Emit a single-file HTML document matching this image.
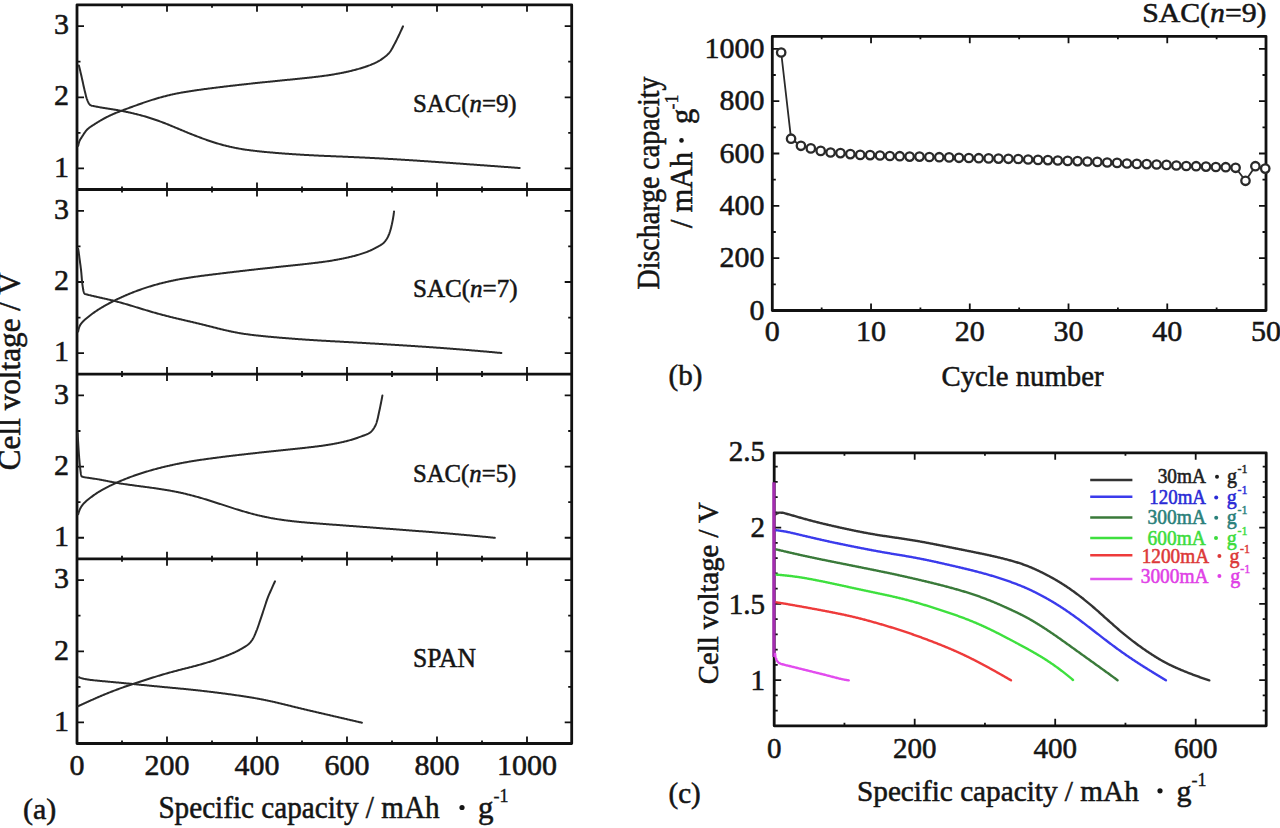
<!DOCTYPE html>
<html><head><meta charset="utf-8"><title>Figure</title>
<style>
html,body{margin:0;padding:0;background:#fff;}
body{width:1280px;height:828px;overflow:hidden;font-family:"Liberation Serif",serif;}
svg{display:block;}
text{font-family:"Liberation Serif",serif;}
</style></head>
<body>
<svg width="1280" height="828" viewBox="0 0 1280 828" font-family="Liberation Serif, serif">
<rect width="1280" height="828" fill="#fff"/>
<g id="pa">
<rect x="77.0" y="4.8" width="494.70" height="738.70" fill="none" stroke="#111" stroke-width="2.8" stroke-linejoin="round"/>
<line x1="77.0" y1="189.5" x2="571.7" y2="189.5" stroke="#111" stroke-width="2.8"/>
<line x1="77.0" y1="374.1" x2="571.7" y2="374.1" stroke="#111" stroke-width="2.8"/>
<line x1="77.0" y1="558.8" x2="571.7" y2="558.8" stroke="#111" stroke-width="2.8"/>
<path d="M122.00,4.80v3M122.00,189.50v-3M167.00,4.80v7M167.00,189.50v-7M212.00,4.80v3M212.00,189.50v-3M257.00,4.80v7M257.00,189.50v-7M302.00,4.80v3M302.00,189.50v-3M347.00,4.80v7M347.00,189.50v-7M392.00,4.80v3M392.00,189.50v-3M437.00,4.80v7M437.00,189.50v-7M482.00,4.80v3M482.00,189.50v-3M527.00,4.80v7M527.00,189.50v-7M77.00,168.45h7M571.70,168.45h-7M77.00,132.87h3.5M571.70,132.87h-3.5M77.00,97.29h7M571.70,97.29h-7M77.00,61.72h3.5M571.70,61.72h-3.5M77.00,26.14h7M571.70,26.14h-7M122.00,189.50v3M122.00,374.10v-3M167.00,189.50v7M167.00,374.10v-7M212.00,189.50v3M212.00,374.10v-3M257.00,189.50v7M257.00,374.10v-7M302.00,189.50v3M302.00,374.10v-3M347.00,189.50v7M347.00,374.10v-7M392.00,189.50v3M392.00,374.10v-3M437.00,189.50v7M437.00,374.10v-7M482.00,189.50v3M482.00,374.10v-3M527.00,189.50v7M527.00,374.10v-7M77.00,353.14h7M571.70,353.14h-7M77.00,317.57h3.5M571.70,317.57h-3.5M77.00,282.00h7M571.70,282.00h-7M77.00,246.42h3.5M571.70,246.42h-3.5M77.00,210.84h7M571.70,210.84h-7M122.00,374.10v3M122.00,558.80v-3M167.00,374.10v7M167.00,558.80v-7M212.00,374.10v3M212.00,558.80v-3M257.00,374.10v7M257.00,558.80v-7M302.00,374.10v3M302.00,558.80v-3M347.00,374.10v7M347.00,558.80v-7M392.00,374.10v3M392.00,558.80v-3M437.00,374.10v7M437.00,558.80v-7M482.00,374.10v3M482.00,558.80v-3M527.00,374.10v7M527.00,558.80v-7M77.00,537.75h7M571.70,537.75h-7M77.00,502.17h3.5M571.70,502.17h-3.5M77.00,466.60h7M571.70,466.60h-7M77.00,431.02h3.5M571.70,431.02h-3.5M77.00,395.44h7M571.70,395.44h-7M122.00,558.80v3M122.00,743.50v-3M167.00,558.80v7M167.00,743.50v-7M212.00,558.80v3M212.00,743.50v-3M257.00,558.80v7M257.00,743.50v-7M302.00,558.80v3M302.00,743.50v-3M347.00,558.80v7M347.00,743.50v-7M392.00,558.80v3M392.00,743.50v-3M437.00,558.80v7M437.00,743.50v-7M482.00,558.80v3M482.00,743.50v-3M527.00,558.80v7M527.00,743.50v-7M77.00,722.44h7M571.70,722.44h-7M77.00,686.87h3.5M571.70,686.87h-3.5M77.00,651.29h7M571.70,651.29h-7M77.00,615.72h3.5M571.70,615.72h-3.5M77.00,580.14h7M571.70,580.14h-7" stroke="#111" stroke-width="1.8" fill="none"/>
<text x="69" y="176.65" text-anchor="end" font-size="30" fill="#151515" stroke="#151515" stroke-width="0.55">1</text>
<text x="69" y="105.49" text-anchor="end" font-size="30" fill="#151515" stroke="#151515" stroke-width="0.55">2</text>
<text x="69" y="34.34" text-anchor="end" font-size="30" fill="#151515" stroke="#151515" stroke-width="0.55">3</text>
<text x="69" y="361.34" text-anchor="end" font-size="30" fill="#151515" stroke="#151515" stroke-width="0.55">1</text>
<text x="69" y="290.19" text-anchor="end" font-size="30" fill="#151515" stroke="#151515" stroke-width="0.55">2</text>
<text x="69" y="219.04" text-anchor="end" font-size="30" fill="#151515" stroke="#151515" stroke-width="0.55">3</text>
<text x="69" y="545.95" text-anchor="end" font-size="30" fill="#151515" stroke="#151515" stroke-width="0.55">1</text>
<text x="69" y="474.80" text-anchor="end" font-size="30" fill="#151515" stroke="#151515" stroke-width="0.55">2</text>
<text x="69" y="403.64" text-anchor="end" font-size="30" fill="#151515" stroke="#151515" stroke-width="0.55">3</text>
<text x="69" y="730.64" text-anchor="end" font-size="30" fill="#151515" stroke="#151515" stroke-width="0.55">1</text>
<text x="69" y="659.50" text-anchor="end" font-size="30" fill="#151515" stroke="#151515" stroke-width="0.55">2</text>
<text x="69" y="588.35" text-anchor="end" font-size="30" fill="#151515" stroke="#151515" stroke-width="0.55">3</text>
<text x="77.00" y="775.2" text-anchor="middle" font-size="30" fill="#151515" stroke="#151515" stroke-width="0.55">0</text>
<text x="167.00" y="775.2" text-anchor="middle" font-size="30" fill="#151515" stroke="#151515" stroke-width="0.55">200</text>
<text x="257.00" y="775.2" text-anchor="middle" font-size="30" fill="#151515" stroke="#151515" stroke-width="0.55">400</text>
<text x="347.00" y="775.2" text-anchor="middle" font-size="30" fill="#151515" stroke="#151515" stroke-width="0.55">600</text>
<text x="437.00" y="775.2" text-anchor="middle" font-size="30" fill="#151515" stroke="#151515" stroke-width="0.55">800</text>
<text x="527.00" y="775.2" text-anchor="middle" font-size="30" fill="#151515" stroke="#151515" stroke-width="0.55">1000</text>
<path d="M78.90,65.40 L79.09,66.18 L79.28,66.96 L79.46,67.74 L79.65,68.52 L79.84,69.30 L80.02,70.08 L80.21,70.86 L80.39,71.64 L80.57,72.42 L80.76,73.20 L80.94,73.98 L81.12,74.76 L81.30,75.54 L81.48,76.32 L81.66,77.10 L81.84,77.88 L82.02,78.66 L82.19,79.44 L82.36,80.23 L82.53,81.01 L82.70,81.79 L82.87,82.58 L83.04,83.36 L83.20,84.15 L83.37,84.93 L83.54,85.71 L83.71,86.50 L83.89,87.28 L84.07,88.06 L84.25,88.84 L84.43,89.62 L84.62,90.40 L84.82,91.17 L85.01,91.96 L85.20,92.75 L85.38,93.54 L85.57,94.33 L85.76,95.12 L85.96,95.91 L86.17,96.69 L86.39,97.46 L86.62,98.23 L86.87,98.98 L87.13,99.73 L87.41,100.45 L87.72,101.17 L88.07,101.93 L88.46,102.72 L88.90,103.48 L89.38,104.17 L89.89,104.75 L90.44,105.17 L91.07,105.45 L91.81,105.68 L92.61,105.87 L93.45,106.04 L94.29,106.20 L95.08,106.37 L95.87,106.53 L96.65,106.69 L97.44,106.84 L98.22,106.98 L99.01,107.13 L99.80,107.26 L100.59,107.40 L101.38,107.53 L102.18,107.66 L102.97,107.79 L103.76,107.93 L104.55,108.06 L105.34,108.19 L106.13,108.32 L106.92,108.44 L107.71,108.57 L108.51,108.69 L109.30,108.81 L110.09,108.93 L110.88,109.05 L111.67,109.17 L112.47,109.30 L113.26,109.43 L114.05,109.56 L114.84,109.69 L115.63,109.83 L116.42,109.96 L117.21,110.10 L118.00,110.24 L118.79,110.38 L119.57,110.52 L120.36,110.67 L121.15,110.81 L121.94,110.96 L122.72,111.12 L123.51,111.27 L124.29,111.43 L125.08,111.59 L125.87,111.75 L126.65,111.91 L127.43,112.08 L128.22,112.25 L129.00,112.42 L129.78,112.59 L130.57,112.76 L131.35,112.94 L132.13,113.12 L132.91,113.30 L133.69,113.49 L134.47,113.68 L135.24,113.86 L136.02,114.06 L136.80,114.25 L137.58,114.45 L138.35,114.65 L139.13,114.85 L139.91,115.05 L140.68,115.26 L141.45,115.47 L142.23,115.68 L143.00,115.90 L143.77,116.11 L144.54,116.33 L145.31,116.55 L146.08,116.78 L146.85,117.00 L147.62,117.23 L148.38,117.46 L149.15,117.70 L149.91,117.94 L150.68,118.18 L151.44,118.43 L152.20,118.68 L152.96,118.93 L153.72,119.19 L154.48,119.45 L155.24,119.71 L155.99,119.97 L156.75,120.24 L157.51,120.51 L158.26,120.78 L159.01,121.05 L159.77,121.33 L160.52,121.61 L161.27,121.88 L162.02,122.16 L162.77,122.44 L163.52,122.72 L164.27,123.01 L165.02,123.30 L165.76,123.59 L166.51,123.89 L167.25,124.19 L167.99,124.49 L168.73,124.79 L169.48,125.10 L170.22,125.40 L170.96,125.71 L171.70,126.02 L172.44,126.33 L173.18,126.64 L173.92,126.95 L174.66,127.25 L175.40,127.56 L176.14,127.87 L176.88,128.17 L177.62,128.48 L178.36,128.78 L179.10,129.09 L179.84,129.40 L180.58,129.71 L181.32,130.02 L182.06,130.33 L182.80,130.64 L183.54,130.95 L184.28,131.26 L185.01,131.57 L185.75,131.88 L186.49,132.18 L187.23,132.49 L187.98,132.80 L188.72,133.10 L189.46,133.40 L190.20,133.70 L190.95,134.00 L191.69,134.29 L192.44,134.58 L193.18,134.87 L193.93,135.16 L194.68,135.46 L195.42,135.75 L196.17,136.04 L196.92,136.33 L197.67,136.61 L198.42,136.90 L199.17,137.19 L199.92,137.47 L200.67,137.75 L201.42,138.04 L202.17,138.32 L202.92,138.59 L203.67,138.87 L204.43,139.14 L205.18,139.41 L205.94,139.68 L206.69,139.95 L207.45,140.21 L208.21,140.47 L208.96,140.73 L209.72,140.99 L210.48,141.24 L211.24,141.49 L212.00,141.73 L212.77,141.98 L213.53,142.23 L214.29,142.47 L215.06,142.71 L215.82,142.95 L216.59,143.19 L217.36,143.42 L218.13,143.65 L218.90,143.88 L219.67,144.10 L220.44,144.32 L221.21,144.54 L221.98,144.76 L222.75,144.97 L223.53,145.17 L224.30,145.37 L225.08,145.57 L225.85,145.76 L226.63,145.95 L227.41,146.14 L228.19,146.33 L228.97,146.51 L229.75,146.69 L230.53,146.87 L231.32,147.05 L232.10,147.22 L232.88,147.39 L233.67,147.56 L234.45,147.72 L235.24,147.88 L236.03,148.03 L236.81,148.19 L237.60,148.33 L238.39,148.48 L239.18,148.62 L239.96,148.75 L240.75,148.89 L241.54,149.02 L242.33,149.15 L243.13,149.27 L243.92,149.40 L244.71,149.52 L245.50,149.64 L246.30,149.75 L247.09,149.87 L247.88,149.98 L248.68,150.09 L249.47,150.20 L250.27,150.30 L251.06,150.40 L251.86,150.50 L252.65,150.60 L253.45,150.69 L254.25,150.79 L255.04,150.88 L255.84,150.97 L256.63,151.06 L257.43,151.14 L258.22,151.23 L259.02,151.32 L259.82,151.40 L260.61,151.49 L261.41,151.57 L262.21,151.65 L263.01,151.73 L263.80,151.81 L264.60,151.89 L265.40,151.97 L266.20,152.04 L266.99,152.12 L267.79,152.19 L268.59,152.27 L269.39,152.34 L270.19,152.41 L270.99,152.48 L271.79,152.55 L272.58,152.62 L273.38,152.69 L274.18,152.76 L274.98,152.83 L275.78,152.89 L276.58,152.96 L277.38,153.03 L278.18,153.09 L278.97,153.15 L279.77,153.22 L280.57,153.28 L281.37,153.34 L282.17,153.40 L282.97,153.46 L283.77,153.52 L284.57,153.58 L285.37,153.64 L286.16,153.70 L286.96,153.76 L287.76,153.81 L288.56,153.87 L289.36,153.93 L290.16,153.98 L290.96,154.04 L291.76,154.09 L292.56,154.15 L293.36,154.20 L294.16,154.25 L294.96,154.30 L295.76,154.36 L296.56,154.41 L297.36,154.46 L298.16,154.51 L298.96,154.56 L299.76,154.61 L300.56,154.66 L301.36,154.70 L302.16,154.75 L302.96,154.80 L303.76,154.85 L304.56,154.89 L305.36,154.94 L306.16,154.98 L306.96,155.03 L307.76,155.07 L308.56,155.12 L309.36,155.16 L310.16,155.20 L310.96,155.24 L311.76,155.29 L312.56,155.33 L313.36,155.37 L314.16,155.41 L314.96,155.45 L315.76,155.48 L316.56,155.52 L317.36,155.56 L318.16,155.60 L318.96,155.63 L319.76,155.67 L320.56,155.71 L321.36,155.74 L322.16,155.78 L322.96,155.81 L323.76,155.85 L324.57,155.88 L325.37,155.91 L326.17,155.95 L326.97,155.98 L327.77,156.01 L328.57,156.05 L329.37,156.08 L330.17,156.11 L330.97,156.15 L331.77,156.18 L332.57,156.21 L333.37,156.25 L334.17,156.28 L334.97,156.31 L335.77,156.35 L336.58,156.38 L337.38,156.41 L338.18,156.45 L338.98,156.48 L339.78,156.52 L340.58,156.55 L341.38,156.59 L342.18,156.62 L342.98,156.65 L343.78,156.69 L344.58,156.72 L345.38,156.76 L346.18,156.79 L346.98,156.82 L347.78,156.86 L348.58,156.89 L349.39,156.92 L350.19,156.96 L350.99,156.99 L351.79,157.02 L352.59,157.06 L353.39,157.09 L354.19,157.13 L354.99,157.16 L355.79,157.20 L356.59,157.23 L357.39,157.27 L358.19,157.30 L358.99,157.34 L359.79,157.38 L360.59,157.41 L361.39,157.45 L362.19,157.49 L362.99,157.53 L363.79,157.57 L364.59,157.60 L365.40,157.64 L366.20,157.68 L367.00,157.72 L367.80,157.76 L368.60,157.80 L369.40,157.84 L370.20,157.89 L371.00,157.93 L371.80,157.97 L372.60,158.01 L373.40,158.05 L374.20,158.09 L375.00,158.14 L375.80,158.18 L376.60,158.22 L377.40,158.26 L378.20,158.31 L379.00,158.35 L379.80,158.40 L380.60,158.44 L381.40,158.48 L382.20,158.53 L383.00,158.57 L383.80,158.62 L384.60,158.66 L385.40,158.71 L386.20,158.75 L387.00,158.80 L387.80,158.84 L388.60,158.89 L389.40,158.93 L390.20,158.98 L391.00,159.03 L391.80,159.07 L392.60,159.12 L393.40,159.17 L394.20,159.21 L395.00,159.26 L395.80,159.31 L396.60,159.35 L397.40,159.40 L398.20,159.45 L399.00,159.50 L399.80,159.55 L400.60,159.59 L401.40,159.64 L402.20,159.69 L403.00,159.74 L403.80,159.79 L404.60,159.84 L405.40,159.89 L406.20,159.94 L407.00,159.99 L407.80,160.04 L408.60,160.09 L409.40,160.14 L410.20,160.19 L411.00,160.24 L411.80,160.30 L412.60,160.35 L413.40,160.40 L414.19,160.45 L414.99,160.51 L415.79,160.56 L416.59,160.61 L417.39,160.66 L418.19,160.72 L418.99,160.77 L419.79,160.82 L420.59,160.88 L421.39,160.93 L422.19,160.98 L422.99,161.04 L423.79,161.09 L424.59,161.15 L425.39,161.20 L426.19,161.25 L426.99,161.31 L427.79,161.36 L428.59,161.42 L429.39,161.47 L430.19,161.53 L430.99,161.58 L431.78,161.64 L432.58,161.69 L433.38,161.75 L434.18,161.80 L434.98,161.86 L435.78,161.91 L436.58,161.97 L437.38,162.02 L438.18,162.08 L438.98,162.13 L439.78,162.19 L440.58,162.24 L441.38,162.30 L442.18,162.36 L442.98,162.41 L443.78,162.47 L444.57,162.53 L445.37,162.58 L446.17,162.64 L446.97,162.70 L447.77,162.76 L448.57,162.81 L449.37,162.87 L450.17,162.93 L450.97,162.99 L451.77,163.04 L452.57,163.10 L453.37,163.16 L454.17,163.22 L454.96,163.28 L455.76,163.33 L456.56,163.39 L457.36,163.45 L458.16,163.51 L458.96,163.57 L459.76,163.62 L460.56,163.68 L461.36,163.74 L462.16,163.80 L462.96,163.86 L463.76,163.92 L464.56,163.97 L465.35,164.03 L466.15,164.09 L466.95,164.15 L467.75,164.21 L468.55,164.26 L469.35,164.32 L470.15,164.38 L470.95,164.44 L471.75,164.50 L472.55,164.55 L473.35,164.61 L474.15,164.67 L474.95,164.73 L475.74,164.79 L476.54,164.84 L477.34,164.90 L478.14,164.96 L478.94,165.02 L479.74,165.08 L480.54,165.13 L481.34,165.19 L482.14,165.25 L482.94,165.31 L483.74,165.37 L484.54,165.42 L485.34,165.48 L486.13,165.54 L486.93,165.60 L487.73,165.66 L488.53,165.72 L489.33,165.77 L490.13,165.83 L490.93,165.89 L491.73,165.95 L492.53,166.01 L493.33,166.06 L494.13,166.12 L494.93,166.18 L495.72,166.24 L496.52,166.30 L497.32,166.36 L498.12,166.42 L498.92,166.47 L499.72,166.53 L500.52,166.59 L501.32,166.65 L502.12,166.71 L502.92,166.77 L503.72,166.82 L504.52,166.88 L505.32,166.94 L506.11,167.00 L506.91,167.06 L507.71,167.12 L508.51,167.18 L509.31,167.24 L510.11,167.29 L510.91,167.35 L511.71,167.41 L512.51,167.47 L513.31,167.53 L514.11,167.59 L514.91,167.65 L515.70,167.71 L516.50,167.76 L517.30,167.82 L518.10,167.88 L518.90,167.94 L519.70,168.00" fill="none" stroke="#2a2a2a" stroke-width="2" stroke-linecap="round" stroke-linejoin="round"/>
<path d="M78.20,145.80 L78.33,144.99 L78.49,144.19 L78.69,143.41 L78.92,142.64 L79.17,141.89 L79.44,141.15 L79.74,140.43 L80.11,139.72 L80.53,139.03 L80.97,138.35 L81.42,137.68 L81.86,137.00 L82.29,136.33 L82.73,135.64 L83.16,134.95 L83.61,134.27 L84.05,133.58 L84.51,132.91 L84.97,132.24 L85.45,131.59 L85.94,130.96 L86.44,130.34 L86.96,129.76 L87.50,129.20 L88.06,128.67 L88.65,128.17 L89.27,127.68 L89.92,127.21 L90.58,126.75 L91.26,126.31 L91.95,125.87 L92.64,125.44 L93.34,125.01 L94.03,124.58 L94.71,124.15 L95.38,123.71 L96.05,123.28 L96.73,122.85 L97.41,122.42 L98.09,122.00 L98.77,121.58 L99.46,121.16 L100.15,120.75 L100.84,120.34 L101.53,119.93 L102.22,119.53 L102.92,119.13 L103.62,118.75 L104.32,118.36 L105.03,117.99 L105.73,117.61 L106.44,117.25 L107.16,116.89 L107.88,116.53 L108.60,116.18 L109.32,115.83 L110.05,115.49 L110.78,115.15 L111.51,114.82 L112.24,114.49 L112.97,114.16 L113.70,113.84 L114.44,113.53 L115.18,113.22 L115.92,112.92 L116.66,112.62 L117.41,112.33 L118.15,112.03 L118.90,111.75 L119.65,111.46 L120.40,111.17 L121.15,110.89 L121.90,110.60 L122.65,110.32 L123.40,110.03 L124.15,109.75 L124.90,109.47 L125.65,109.19 L126.40,108.91 L127.15,108.63 L127.90,108.35 L128.65,108.07 L129.40,107.80 L130.16,107.52 L130.91,107.25 L131.66,106.98 L132.42,106.70 L133.17,106.43 L133.92,106.16 L134.68,105.89 L135.43,105.62 L136.19,105.35 L136.94,105.07 L137.70,104.80 L138.45,104.53 L139.20,104.26 L139.96,103.99 L140.71,103.72 L141.47,103.46 L142.23,103.19 L142.98,102.93 L143.74,102.66 L144.50,102.40 L145.26,102.14 L146.01,101.89 L146.77,101.63 L147.53,101.38 L148.30,101.13 L149.06,100.89 L149.82,100.64 L150.58,100.40 L151.35,100.16 L152.11,99.91 L152.88,99.67 L153.64,99.44 L154.41,99.20 L155.17,98.96 L155.94,98.73 L156.71,98.50 L157.48,98.27 L158.25,98.05 L159.02,97.82 L159.79,97.60 L160.56,97.39 L161.33,97.18 L162.10,96.97 L162.88,96.76 L163.65,96.56 L164.43,96.36 L165.20,96.16 L165.98,95.96 L166.76,95.77 L167.54,95.58 L168.32,95.39 L169.10,95.20 L169.88,95.02 L170.66,94.83 L171.44,94.65 L172.22,94.48 L173.00,94.30 L173.79,94.13 L174.57,93.96 L175.35,93.80 L176.14,93.64 L176.92,93.48 L177.71,93.32 L178.49,93.17 L179.28,93.02 L180.07,92.87 L180.86,92.73 L181.64,92.59 L182.43,92.45 L183.22,92.31 L184.01,92.17 L184.80,92.04 L185.59,91.91 L186.39,91.78 L187.18,91.65 L187.97,91.52 L188.76,91.39 L189.55,91.27 L190.34,91.15 L191.14,91.03 L191.93,90.90 L192.72,90.79 L193.51,90.67 L194.30,90.55 L195.10,90.43 L195.89,90.32 L196.68,90.20 L197.47,90.09 L198.27,89.98 L199.06,89.87 L199.85,89.76 L200.65,89.65 L201.44,89.54 L202.24,89.43 L203.03,89.32 L203.82,89.21 L204.62,89.11 L205.41,89.00 L206.21,88.90 L207.00,88.79 L207.80,88.69 L208.59,88.59 L209.39,88.48 L210.18,88.38 L210.98,88.28 L211.77,88.18 L212.57,88.08 L213.36,87.98 L214.16,87.88 L214.95,87.78 L215.75,87.68 L216.54,87.58 L217.34,87.48 L218.13,87.38 L218.93,87.29 L219.72,87.19 L220.52,87.09 L221.31,86.99 L222.11,86.90 L222.91,86.80 L223.70,86.70 L224.50,86.61 L225.29,86.51 L226.09,86.41 L226.88,86.32 L227.68,86.22 L228.47,86.13 L229.27,86.04 L230.07,85.94 L230.86,85.85 L231.66,85.76 L232.45,85.66 L233.25,85.57 L234.04,85.48 L234.84,85.39 L235.64,85.30 L236.43,85.21 L237.23,85.12 L238.03,85.03 L238.82,84.94 L239.62,84.85 L240.41,84.76 L241.21,84.67 L242.01,84.58 L242.80,84.49 L243.60,84.40 L244.40,84.32 L245.19,84.23 L245.99,84.14 L246.79,84.06 L247.58,83.97 L248.38,83.88 L249.18,83.80 L249.97,83.71 L250.77,83.62 L251.57,83.54 L252.36,83.45 L253.16,83.37 L253.96,83.28 L254.75,83.20 L255.55,83.11 L256.35,83.03 L257.14,82.94 L257.94,82.86 L258.74,82.78 L259.53,82.69 L260.33,82.61 L261.13,82.53 L261.92,82.45 L262.72,82.37 L263.52,82.28 L264.32,82.20 L265.11,82.12 L265.91,82.04 L266.71,81.96 L267.50,81.88 L268.30,81.80 L269.10,81.72 L269.90,81.64 L270.69,81.56 L271.49,81.48 L272.29,81.40 L273.09,81.32 L273.88,81.24 L274.68,81.16 L275.48,81.08 L276.27,81.00 L277.07,80.92 L277.87,80.84 L278.67,80.76 L279.46,80.68 L280.26,80.60 L281.06,80.51 L281.85,80.43 L282.65,80.35 L283.45,80.27 L284.25,80.19 L285.04,80.11 L285.84,80.03 L286.64,79.95 L287.44,79.87 L288.23,79.79 L289.03,79.71 L289.83,79.63 L290.62,79.55 L291.42,79.47 L292.22,79.39 L293.02,79.31 L293.81,79.23 L294.61,79.15 L295.41,79.08 L296.21,79.00 L297.00,78.92 L297.80,78.84 L298.60,78.76 L299.40,78.68 L300.19,78.59 L300.99,78.51 L301.79,78.43 L302.58,78.35 L303.38,78.27 L304.18,78.18 L304.98,78.10 L305.77,78.02 L306.57,77.93 L307.37,77.85 L308.16,77.76 L308.96,77.67 L309.75,77.58 L310.55,77.50 L311.35,77.41 L312.14,77.32 L312.94,77.22 L313.73,77.13 L314.53,77.04 L315.33,76.95 L316.12,76.86 L316.92,76.76 L317.72,76.67 L318.51,76.57 L319.31,76.47 L320.10,76.37 L320.90,76.27 L321.69,76.17 L322.49,76.07 L323.28,75.96 L324.07,75.85 L324.87,75.74 L325.66,75.63 L326.45,75.52 L327.24,75.40 L328.04,75.28 L328.83,75.16 L329.62,75.04 L330.41,74.92 L331.21,74.79 L332.00,74.66 L332.79,74.53 L333.58,74.40 L334.37,74.26 L335.16,74.13 L335.95,73.99 L336.74,73.85 L337.53,73.71 L338.32,73.56 L339.11,73.42 L339.89,73.27 L340.68,73.12 L341.47,72.96 L342.25,72.81 L343.04,72.65 L343.82,72.49 L344.60,72.33 L345.39,72.16 L346.17,71.99 L346.95,71.82 L347.73,71.65 L348.52,71.47 L349.30,71.29 L350.08,71.11 L350.86,70.92 L351.64,70.73 L352.42,70.54 L353.20,70.34 L353.98,70.15 L354.76,69.94 L355.53,69.74 L356.31,69.53 L357.08,69.32 L357.85,69.10 L358.63,68.89 L359.39,68.66 L360.16,68.44 L360.93,68.21 L361.69,67.98 L362.45,67.74 L363.21,67.50 L363.98,67.25 L364.74,67.01 L365.50,66.75 L366.26,66.49 L367.03,66.22 L367.79,65.95 L368.54,65.68 L369.30,65.39 L370.05,65.11 L370.80,64.81 L371.55,64.51 L372.29,64.20 L373.03,63.89 L373.76,63.57 L374.49,63.24 L375.21,62.91 L375.93,62.56 L376.64,62.21 L377.34,61.85 L378.04,61.47 L378.74,61.07 L379.43,60.66 L380.12,60.23 L380.79,59.79 L381.46,59.34 L382.12,58.88 L382.78,58.41 L383.42,57.94 L384.06,57.46 L384.69,56.97 L385.33,56.47 L385.96,55.96 L386.58,55.43 L387.19,54.89 L387.78,54.34 L388.35,53.78 L388.89,53.20 L389.40,52.61 L389.88,51.99 L390.34,51.36 L390.78,50.71 L391.21,50.04 L391.63,49.35 L392.04,48.65 L392.43,47.95 L392.82,47.23 L393.20,46.51 L393.58,45.80 L393.96,45.08 L394.34,44.36 L394.72,43.65 L395.10,42.95 L395.47,42.24 L395.84,41.53 L396.20,40.81 L396.56,40.10 L396.91,39.38 L397.26,38.66 L397.61,37.93 L397.96,37.21 L398.31,36.49 L398.66,35.77 L399.00,35.04 L399.34,34.32 L399.69,33.60 L400.03,32.87 L400.36,32.14 L400.70,31.42 L401.03,30.69 L401.37,29.96 L401.70,29.23 L402.03,28.50 L402.35,27.77 L402.68,27.03 L403.00,26.30" fill="none" stroke="#2a2a2a" stroke-width="2" stroke-linecap="round" stroke-linejoin="round"/>
<path d="M78.20,248.80 L78.31,249.59 L78.42,250.38 L78.53,251.18 L78.64,251.97 L78.75,252.76 L78.86,253.55 L78.97,254.35 L79.08,255.14 L79.19,255.93 L79.29,256.73 L79.40,257.52 L79.51,258.31 L79.61,259.10 L79.72,259.90 L79.83,260.69 L79.93,261.48 L80.04,262.28 L80.15,263.07 L80.26,263.86 L80.36,264.65 L80.47,265.45 L80.57,266.24 L80.67,267.03 L80.77,267.83 L80.87,268.62 L80.96,269.42 L81.06,270.21 L81.14,271.01 L81.23,271.80 L81.30,272.60 L81.38,273.40 L81.44,274.20 L81.51,275.00 L81.58,275.80 L81.64,276.60 L81.70,277.40 L81.77,278.20 L81.83,279.00 L81.90,279.79 L81.97,280.59 L82.05,281.39 L82.13,282.18 L82.22,282.97 L82.32,283.76 L82.42,284.55 L82.53,285.34 L82.65,286.18 L82.78,287.07 L82.91,287.98 L83.06,288.90 L83.22,289.81 L83.40,290.69 L83.61,291.51 L83.84,292.25 L84.10,292.90 L84.40,293.43 L84.73,293.83 L85.30,294.11 L86.11,294.34 L87.01,294.55 L87.83,294.75 L88.60,294.96 L89.37,295.15 L90.15,295.34 L90.93,295.53 L91.71,295.71 L92.49,295.89 L93.27,296.06 L94.05,296.23 L94.83,296.41 L95.61,296.58 L96.40,296.75 L97.18,296.93 L97.96,297.11 L98.73,297.29 L99.51,297.47 L100.30,297.65 L101.08,297.82 L101.86,298.00 L102.64,298.17 L103.42,298.35 L104.20,298.52 L104.98,298.70 L105.76,298.88 L106.54,299.05 L107.32,299.23 L108.10,299.41 L108.88,299.60 L109.66,299.78 L110.43,299.97 L111.21,300.15 L111.99,300.34 L112.76,300.54 L113.54,300.73 L114.31,300.93 L115.09,301.13 L115.86,301.34 L116.64,301.54 L117.41,301.75 L118.18,301.95 L118.95,302.16 L119.73,302.37 L120.50,302.58 L121.27,302.80 L122.04,303.01 L122.81,303.23 L123.58,303.44 L124.35,303.66 L125.12,303.88 L125.89,304.10 L126.66,304.32 L127.43,304.54 L128.20,304.77 L128.96,304.99 L129.73,305.22 L130.50,305.45 L131.26,305.68 L132.03,305.92 L132.79,306.15 L133.56,306.39 L134.32,306.62 L135.08,306.86 L135.85,307.09 L136.61,307.33 L137.38,307.57 L138.14,307.80 L138.91,308.04 L139.67,308.27 L140.44,308.50 L141.21,308.73 L141.97,308.96 L142.74,309.19 L143.50,309.42 L144.27,309.65 L145.04,309.89 L145.80,310.12 L146.57,310.35 L147.33,310.58 L148.10,310.81 L148.87,311.04 L149.63,311.26 L150.40,311.49 L151.17,311.72 L151.94,311.94 L152.70,312.17 L153.47,312.39 L154.24,312.61 L155.01,312.83 L155.78,313.04 L156.55,313.26 L157.32,313.47 L158.09,313.68 L158.87,313.89 L159.64,314.10 L160.41,314.31 L161.18,314.52 L161.96,314.73 L162.73,314.93 L163.50,315.14 L164.28,315.34 L165.05,315.55 L165.83,315.75 L166.60,315.95 L167.37,316.15 L168.15,316.34 L168.93,316.54 L169.70,316.74 L170.48,316.93 L171.25,317.12 L172.03,317.31 L172.81,317.50 L173.58,317.69 L174.36,317.88 L175.14,318.06 L175.92,318.25 L176.70,318.43 L177.48,318.62 L178.26,318.80 L179.03,318.98 L179.81,319.16 L180.59,319.34 L181.37,319.53 L182.15,319.71 L182.93,319.89 L183.71,320.07 L184.49,320.25 L185.27,320.44 L186.05,320.62 L186.83,320.80 L187.61,320.98 L188.39,321.16 L189.16,321.34 L189.94,321.52 L190.72,321.70 L191.50,321.88 L192.28,322.06 L193.06,322.24 L193.84,322.42 L194.62,322.60 L195.40,322.79 L196.18,322.97 L196.95,323.16 L197.73,323.35 L198.51,323.54 L199.29,323.73 L200.06,323.92 L200.84,324.12 L201.61,324.31 L202.39,324.51 L203.17,324.70 L203.94,324.90 L204.72,325.09 L205.49,325.29 L206.27,325.48 L207.05,325.68 L207.82,325.87 L208.60,326.07 L209.37,326.26 L210.15,326.46 L210.93,326.65 L211.70,326.84 L212.48,327.04 L213.25,327.24 L214.03,327.43 L214.80,327.63 L215.58,327.83 L216.35,328.03 L217.13,328.23 L217.91,328.42 L218.68,328.62 L219.46,328.81 L220.23,329.01 L221.01,329.20 L221.79,329.39 L222.57,329.57 L223.34,329.76 L224.12,329.94 L224.90,330.12 L225.68,330.29 L226.46,330.46 L227.24,330.64 L228.03,330.81 L228.81,330.98 L229.59,331.15 L230.37,331.32 L231.16,331.49 L231.94,331.66 L232.72,331.82 L233.51,331.98 L234.29,332.14 L235.08,332.29 L235.86,332.45 L236.65,332.59 L237.43,332.74 L238.22,332.88 L239.01,333.02 L239.80,333.15 L240.59,333.28 L241.37,333.41 L242.16,333.53 L242.95,333.65 L243.75,333.78 L244.54,333.89 L245.33,334.01 L246.12,334.12 L246.91,334.24 L247.71,334.35 L248.50,334.45 L249.29,334.56 L250.09,334.66 L250.88,334.77 L251.68,334.87 L252.47,334.96 L253.26,335.06 L254.06,335.15 L254.85,335.24 L255.65,335.34 L256.44,335.42 L257.24,335.51 L258.03,335.60 L258.83,335.69 L259.62,335.77 L260.42,335.86 L261.21,335.94 L262.01,336.02 L262.80,336.10 L263.60,336.18 L264.40,336.26 L265.19,336.34 L265.99,336.42 L266.78,336.50 L267.58,336.57 L268.38,336.65 L269.18,336.72 L269.97,336.80 L270.77,336.87 L271.57,336.94 L272.36,337.01 L273.16,337.09 L273.96,337.16 L274.75,337.23 L275.55,337.30 L276.35,337.37 L277.15,337.43 L277.94,337.50 L278.74,337.57 L279.54,337.64 L280.34,337.71 L281.13,337.77 L281.93,337.84 L282.73,337.90 L283.52,337.97 L284.32,338.04 L285.12,338.10 L285.92,338.17 L286.71,338.23 L287.51,338.29 L288.31,338.36 L289.11,338.42 L289.90,338.48 L290.70,338.54 L291.50,338.60 L292.30,338.66 L293.09,338.72 L293.89,338.78 L294.69,338.84 L295.49,338.90 L296.29,338.96 L297.08,339.02 L297.88,339.08 L298.68,339.13 L299.48,339.19 L300.28,339.25 L301.07,339.30 L301.87,339.36 L302.67,339.42 L303.47,339.47 L304.27,339.53 L305.06,339.58 L305.86,339.63 L306.66,339.69 L307.46,339.74 L308.26,339.79 L309.06,339.85 L309.85,339.90 L310.65,339.95 L311.45,340.00 L312.25,340.06 L313.05,340.11 L313.85,340.16 L314.64,340.21 L315.44,340.25 L316.24,340.30 L317.04,340.35 L317.84,340.40 L318.64,340.44 L319.44,340.49 L320.24,340.54 L321.03,340.58 L321.83,340.63 L322.63,340.67 L323.43,340.72 L324.23,340.76 L325.03,340.81 L325.83,340.86 L326.62,340.90 L327.42,340.95 L328.22,340.99 L329.02,341.04 L329.82,341.08 L330.62,341.13 L331.42,341.17 L332.22,341.22 L333.01,341.26 L333.81,341.31 L334.61,341.35 L335.41,341.40 L336.21,341.44 L337.01,341.49 L337.81,341.53 L338.61,341.58 L339.41,341.62 L340.20,341.66 L341.00,341.71 L341.80,341.75 L342.60,341.80 L343.40,341.84 L344.20,341.88 L345.00,341.93 L345.80,341.97 L346.59,342.02 L347.39,342.06 L348.19,342.11 L348.99,342.15 L349.79,342.19 L350.59,342.24 L351.39,342.28 L352.19,342.33 L352.98,342.37 L353.78,342.42 L354.58,342.46 L355.38,342.51 L356.18,342.55 L356.98,342.59 L357.78,342.64 L358.58,342.69 L359.37,342.73 L360.17,342.78 L360.97,342.82 L361.77,342.87 L362.57,342.91 L363.37,342.96 L364.17,343.01 L364.97,343.05 L365.76,343.10 L366.56,343.15 L367.36,343.19 L368.16,343.24 L368.96,343.29 L369.76,343.33 L370.56,343.38 L371.35,343.43 L372.15,343.48 L372.95,343.52 L373.75,343.57 L374.55,343.62 L375.35,343.66 L376.15,343.71 L376.95,343.76 L377.74,343.81 L378.54,343.86 L379.34,343.90 L380.14,343.95 L380.94,344.00 L381.74,344.05 L382.54,344.10 L383.33,344.14 L384.13,344.19 L384.93,344.24 L385.73,344.29 L386.53,344.34 L387.33,344.39 L388.13,344.44 L388.92,344.48 L389.72,344.53 L390.52,344.58 L391.32,344.63 L392.12,344.68 L392.92,344.73 L393.71,344.78 L394.51,344.83 L395.31,344.88 L396.11,344.93 L396.91,344.98 L397.71,345.03 L398.51,345.08 L399.30,345.13 L400.10,345.18 L400.90,345.23 L401.70,345.28 L402.50,345.33 L403.30,345.39 L404.09,345.44 L404.89,345.49 L405.69,345.54 L406.49,345.59 L407.29,345.64 L408.09,345.69 L408.88,345.75 L409.68,345.80 L410.48,345.85 L411.28,345.90 L412.08,345.95 L412.88,346.01 L413.67,346.06 L414.47,346.11 L415.27,346.16 L416.07,346.22 L416.87,346.27 L417.67,346.32 L418.46,346.38 L419.26,346.43 L420.06,346.48 L420.86,346.54 L421.66,346.59 L422.46,346.64 L423.25,346.70 L424.05,346.75 L424.85,346.81 L425.65,346.86 L426.45,346.91 L427.24,346.97 L428.04,347.02 L428.84,347.08 L429.64,347.13 L430.44,347.19 L431.24,347.25 L432.03,347.30 L432.83,347.36 L433.63,347.41 L434.43,347.47 L435.23,347.53 L436.02,347.58 L436.82,347.64 L437.62,347.70 L438.42,347.75 L439.22,347.81 L440.01,347.87 L440.81,347.93 L441.61,347.99 L442.41,348.04 L443.20,348.10 L444.00,348.16 L444.80,348.22 L445.60,348.28 L446.40,348.34 L447.19,348.40 L447.99,348.46 L448.79,348.52 L449.59,348.58 L450.38,348.64 L451.18,348.71 L451.98,348.77 L452.78,348.83 L453.57,348.89 L454.37,348.95 L455.17,349.02 L455.97,349.08 L456.77,349.14 L457.56,349.21 L458.36,349.27 L459.16,349.33 L459.96,349.40 L460.75,349.46 L461.55,349.53 L462.35,349.59 L463.14,349.66 L463.94,349.72 L464.74,349.79 L465.54,349.85 L466.33,349.92 L467.13,349.98 L467.93,350.05 L468.73,350.12 L469.52,350.18 L470.32,350.25 L471.12,350.31 L471.92,350.38 L472.71,350.45 L473.51,350.52 L474.31,350.58 L475.10,350.65 L475.90,350.72 L476.70,350.79 L477.50,350.85 L478.29,350.92 L479.09,350.99 L479.89,351.06 L480.68,351.13 L481.48,351.20 L482.28,351.27 L483.07,351.34 L483.87,351.41 L484.67,351.48 L485.47,351.55 L486.26,351.62 L487.06,351.69 L487.86,351.76 L488.65,351.83 L489.45,351.90 L490.25,351.98 L491.04,352.05 L491.84,352.12 L492.64,352.19 L493.43,352.26 L494.23,352.34 L495.03,352.41 L495.82,352.48 L496.62,352.56 L497.42,352.63 L498.21,352.70 L499.01,352.78 L499.81,352.85 L500.60,352.93 L501.40,353.00" fill="none" stroke="#2a2a2a" stroke-width="2" stroke-linecap="round" stroke-linejoin="round"/>
<path d="M78.20,331.40 L78.31,330.58 L78.47,329.78 L78.66,329.00 L78.89,328.23 L79.14,327.47 L79.41,326.74 L79.71,326.01 L80.07,325.30 L80.49,324.60 L80.95,323.93 L81.43,323.27 L81.92,322.65 L82.43,322.06 L82.97,321.48 L83.54,320.92 L84.13,320.37 L84.74,319.84 L85.36,319.31 L85.98,318.79 L86.61,318.28 L87.23,317.77 L87.85,317.26 L88.47,316.75 L89.09,316.25 L89.72,315.75 L90.35,315.26 L90.99,314.77 L91.63,314.28 L92.27,313.80 L92.92,313.32 L93.57,312.85 L94.23,312.39 L94.88,311.92 L95.54,311.47 L96.21,311.02 L96.87,310.57 L97.54,310.13 L98.21,309.70 L98.88,309.27 L99.56,308.84 L100.24,308.42 L100.92,308.00 L101.60,307.59 L102.29,307.18 L102.99,306.77 L103.68,306.36 L104.37,305.96 L105.07,305.57 L105.77,305.17 L106.48,304.78 L107.18,304.39 L107.88,304.01 L108.59,303.63 L109.30,303.25 L110.01,302.87 L110.72,302.50 L111.43,302.13 L112.14,301.76 L112.85,301.39 L113.56,301.03 L114.28,300.67 L114.99,300.31 L115.71,299.96 L116.43,299.61 L117.15,299.26 L117.88,298.91 L118.60,298.57 L119.33,298.23 L120.06,297.89 L120.79,297.55 L121.52,297.22 L122.25,296.89 L122.98,296.56 L123.71,296.24 L124.45,295.91 L125.18,295.59 L125.92,295.28 L126.65,294.96 L127.39,294.65 L128.13,294.34 L128.87,294.03 L129.61,293.73 L130.35,293.42 L131.10,293.12 L131.84,292.82 L132.59,292.53 L133.33,292.23 L134.08,291.94 L134.83,291.65 L135.58,291.37 L136.33,291.08 L137.08,290.80 L137.83,290.53 L138.58,290.25 L139.34,289.98 L140.09,289.71 L140.85,289.44 L141.60,289.18 L142.36,288.92 L143.12,288.66 L143.88,288.40 L144.64,288.15 L145.40,287.89 L146.16,287.64 L146.92,287.39 L147.69,287.15 L148.45,286.90 L149.22,286.66 L149.98,286.43 L150.75,286.19 L151.52,285.96 L152.28,285.73 L153.05,285.50 L153.82,285.28 L154.59,285.06 L155.36,284.84 L156.13,284.62 L156.91,284.41 L157.68,284.20 L158.45,283.99 L159.23,283.79 L160.00,283.58 L160.78,283.38 L161.56,283.18 L162.33,282.98 L163.11,282.79 L163.89,282.60 L164.67,282.41 L165.45,282.22 L166.23,282.04 L167.01,281.85 L167.79,281.67 L168.57,281.50 L169.35,281.32 L170.14,281.15 L170.92,280.98 L171.70,280.81 L172.49,280.65 L173.27,280.48 L174.06,280.32 L174.84,280.16 L175.63,280.01 L176.41,279.85 L177.20,279.70 L177.99,279.54 L178.78,279.39 L179.57,279.25 L180.35,279.10 L181.14,278.96 L181.93,278.82 L182.72,278.68 L183.51,278.54 L184.30,278.41 L185.09,278.27 L185.88,278.14 L186.67,278.01 L187.46,277.89 L188.26,277.77 L189.05,277.64 L189.84,277.52 L190.63,277.41 L191.43,277.29 L192.22,277.18 L193.01,277.06 L193.81,276.95 L194.60,276.84 L195.39,276.73 L196.19,276.62 L196.98,276.51 L197.78,276.40 L198.57,276.29 L199.36,276.18 L200.16,276.07 L200.95,275.97 L201.75,275.86 L202.54,275.76 L203.34,275.66 L204.13,275.55 L204.93,275.45 L205.72,275.35 L206.52,275.25 L207.31,275.14 L208.11,275.04 L208.90,274.94 L209.70,274.84 L210.49,274.75 L211.29,274.65 L212.08,274.55 L212.88,274.45 L213.67,274.35 L214.47,274.25 L215.27,274.16 L216.06,274.06 L216.86,273.96 L217.65,273.87 L218.45,273.77 L219.24,273.67 L220.04,273.58 L220.84,273.48 L221.63,273.38 L222.43,273.29 L223.22,273.19 L224.02,273.09 L224.81,273.00 L225.61,272.90 L226.41,272.80 L227.20,272.71 L228.00,272.61 L228.79,272.52 L229.59,272.42 L230.38,272.33 L231.18,272.23 L231.98,272.14 L232.77,272.04 L233.57,271.95 L234.36,271.85 L235.16,271.76 L235.96,271.67 L236.75,271.57 L237.55,271.48 L238.34,271.39 L239.14,271.29 L239.94,271.20 L240.73,271.11 L241.53,271.01 L242.32,270.92 L243.12,270.83 L243.92,270.74 L244.71,270.65 L245.51,270.55 L246.31,270.46 L247.10,270.37 L247.90,270.28 L248.69,270.19 L249.49,270.10 L250.29,270.01 L251.08,269.92 L251.88,269.83 L252.68,269.74 L253.47,269.65 L254.27,269.56 L255.07,269.47 L255.86,269.38 L256.66,269.29 L257.45,269.20 L258.25,269.11 L259.05,269.02 L259.84,268.93 L260.64,268.85 L261.44,268.76 L262.23,268.67 L263.03,268.58 L263.83,268.50 L264.62,268.41 L265.42,268.32 L266.22,268.23 L267.01,268.15 L267.81,268.06 L268.61,267.97 L269.41,267.89 L270.20,267.80 L271.00,267.71 L271.80,267.63 L272.59,267.54 L273.39,267.46 L274.19,267.37 L274.98,267.28 L275.78,267.20 L276.58,267.11 L277.37,267.02 L278.17,266.94 L278.97,266.85 L279.76,266.77 L280.56,266.68 L281.36,266.59 L282.15,266.51 L282.95,266.42 L283.75,266.33 L284.55,266.25 L285.34,266.16 L286.14,266.08 L286.94,265.99 L287.73,265.91 L288.53,265.82 L289.33,265.74 L290.12,265.66 L290.92,265.57 L291.72,265.49 L292.52,265.40 L293.31,265.32 L294.11,265.24 L294.91,265.15 L295.70,265.07 L296.50,264.99 L297.30,264.90 L298.10,264.82 L298.89,264.73 L299.69,264.65 L300.49,264.56 L301.28,264.48 L302.08,264.39 L302.88,264.31 L303.67,264.22 L304.47,264.13 L305.27,264.05 L306.06,263.96 L306.86,263.87 L307.66,263.78 L308.45,263.69 L309.25,263.60 L310.05,263.51 L310.84,263.42 L311.64,263.32 L312.43,263.23 L313.23,263.13 L314.03,263.04 L314.82,262.95 L315.62,262.85 L316.41,262.76 L317.21,262.66 L318.01,262.56 L318.80,262.46 L319.60,262.36 L320.39,262.26 L321.19,262.16 L321.98,262.05 L322.78,261.95 L323.57,261.84 L324.36,261.73 L325.16,261.62 L325.95,261.50 L326.74,261.38 L327.53,261.26 L328.33,261.14 L329.12,261.02 L329.91,260.89 L330.70,260.77 L331.49,260.64 L332.29,260.51 L333.08,260.38 L333.87,260.24 L334.66,260.10 L335.45,259.97 L336.24,259.82 L337.03,259.68 L337.82,259.54 L338.61,259.39 L339.39,259.24 L340.18,259.09 L340.97,258.93 L341.75,258.78 L342.54,258.62 L343.32,258.46 L344.11,258.29 L344.89,258.13 L345.67,257.96 L346.45,257.79 L347.23,257.61 L348.02,257.43 L348.80,257.25 L349.58,257.07 L350.36,256.89 L351.14,256.70 L351.93,256.50 L352.71,256.31 L353.49,256.11 L354.27,255.91 L355.04,255.70 L355.82,255.49 L356.60,255.28 L357.37,255.06 L358.14,254.84 L358.91,254.61 L359.68,254.38 L360.45,254.15 L361.21,253.91 L361.97,253.67 L362.73,253.42 L363.49,253.17 L364.24,252.91 L364.99,252.65 L365.74,252.38 L366.49,252.10 L367.23,251.81 L367.98,251.51 L368.72,251.20 L369.46,250.88 L370.20,250.55 L370.93,250.22 L371.66,249.88 L372.39,249.53 L373.11,249.18 L373.83,248.82 L374.54,248.45 L375.25,248.08 L375.96,247.71 L376.66,247.33 L377.37,246.95 L378.09,246.56 L378.82,246.16 L379.54,245.75 L380.25,245.33 L380.95,244.90 L381.63,244.45 L382.28,243.99 L382.90,243.50 L383.48,243.00 L384.02,242.48 L384.53,241.92 L385.03,241.33 L385.52,240.70 L385.99,240.04 L386.44,239.35 L386.87,238.65 L387.29,237.93 L387.68,237.20 L388.05,236.46 L388.39,235.73 L388.71,235.00 L389.01,234.28 L389.30,233.54 L389.57,232.80 L389.83,232.04 L390.08,231.28 L390.31,230.50 L390.54,229.73 L390.76,228.95 L390.97,228.16 L391.17,227.38 L391.36,226.60 L391.54,225.81 L391.71,225.03 L391.89,224.25 L392.05,223.47 L392.22,222.69 L392.38,221.91 L392.54,221.12 L392.69,220.34 L392.84,219.55 L392.98,218.76 L393.12,217.97 L393.25,217.18 L393.38,216.39 L393.50,215.59 L393.62,214.80 L393.72,214.00 L393.82,213.20 L393.92,212.40 L394.00,211.60" fill="none" stroke="#2a2a2a" stroke-width="2" stroke-linecap="round" stroke-linejoin="round"/>
<path d="M77.60,433.00 L77.64,433.80 L77.69,434.60 L77.73,435.40 L77.77,436.20 L77.82,437.00 L77.87,437.79 L77.91,438.59 L77.96,439.39 L78.00,440.19 L78.05,440.99 L78.10,441.79 L78.15,442.59 L78.20,443.39 L78.25,444.19 L78.30,444.98 L78.35,445.78 L78.40,446.58 L78.45,447.38 L78.50,448.18 L78.55,448.98 L78.61,449.78 L78.66,450.57 L78.71,451.37 L78.77,452.17 L78.82,452.97 L78.88,453.77 L78.94,454.57 L78.99,455.37 L79.06,456.16 L79.12,456.96 L79.18,457.76 L79.25,458.56 L79.31,459.35 L79.37,460.15 L79.44,460.95 L79.51,461.75 L79.57,462.55 L79.64,463.35 L79.72,464.15 L79.80,464.94 L79.88,465.74 L79.96,466.53 L80.05,467.33 L80.15,468.12 L80.25,468.91 L80.35,469.72 L80.46,470.59 L80.57,471.51 L80.69,472.46 L80.82,473.38 L80.97,474.26 L81.15,475.05 L81.36,475.72 L81.61,476.25 L81.92,476.59 L82.55,476.84 L83.43,477.04 L84.34,477.21 L85.15,477.36 L85.93,477.50 L86.72,477.63 L87.51,477.74 L88.31,477.86 L89.10,477.97 L89.90,478.08 L90.69,478.19 L91.48,478.31 L92.27,478.42 L93.06,478.54 L93.86,478.65 L94.65,478.76 L95.44,478.88 L96.23,479.00 L97.02,479.12 L97.81,479.25 L98.60,479.38 L99.39,479.52 L100.18,479.66 L100.96,479.81 L101.75,479.96 L102.53,480.11 L103.32,480.26 L104.11,480.42 L104.89,480.57 L105.68,480.73 L106.46,480.89 L107.24,481.05 L108.03,481.21 L108.81,481.36 L109.60,481.52 L110.39,481.67 L111.17,481.82 L111.96,481.97 L112.74,482.12 L113.53,482.27 L114.32,482.41 L115.10,482.56 L115.89,482.71 L116.68,482.85 L117.47,482.99 L118.26,483.13 L119.04,483.26 L119.83,483.39 L120.62,483.52 L121.41,483.64 L122.20,483.76 L123.00,483.88 L123.79,484.00 L124.58,484.12 L125.37,484.23 L126.16,484.34 L126.96,484.46 L127.75,484.57 L128.54,484.68 L129.33,484.79 L130.13,484.90 L130.92,485.00 L131.71,485.11 L132.51,485.22 L133.30,485.33 L134.09,485.44 L134.89,485.54 L135.68,485.65 L136.47,485.76 L137.26,485.87 L138.06,485.98 L138.85,486.09 L139.64,486.19 L140.44,486.30 L141.23,486.41 L142.02,486.51 L142.82,486.61 L143.61,486.72 L144.41,486.82 L145.20,486.92 L145.99,487.02 L146.79,487.13 L147.58,487.23 L148.37,487.33 L149.17,487.44 L149.96,487.54 L150.75,487.65 L151.55,487.76 L152.34,487.87 L153.13,487.98 L153.93,488.09 L154.72,488.20 L155.51,488.31 L156.30,488.43 L157.09,488.55 L157.88,488.67 L158.67,488.79 L159.47,488.91 L160.26,489.03 L161.05,489.16 L161.84,489.28 L162.63,489.41 L163.42,489.54 L164.21,489.67 L165.00,489.80 L165.79,489.93 L166.58,490.06 L167.37,490.19 L168.16,490.33 L168.95,490.47 L169.74,490.60 L170.52,490.74 L171.31,490.89 L172.10,491.03 L172.89,491.18 L173.67,491.32 L174.46,491.47 L175.24,491.63 L176.03,491.78 L176.81,491.93 L177.60,492.09 L178.38,492.25 L179.16,492.42 L179.94,492.59 L180.72,492.76 L181.50,492.93 L182.29,493.10 L183.07,493.28 L183.85,493.46 L184.62,493.65 L185.40,493.84 L186.18,494.02 L186.96,494.21 L187.74,494.41 L188.51,494.60 L189.29,494.80 L190.07,495.00 L190.84,495.20 L191.62,495.40 L192.39,495.60 L193.17,495.81 L193.94,496.01 L194.71,496.22 L195.49,496.43 L196.26,496.64 L197.03,496.85 L197.80,497.06 L198.57,497.27 L199.34,497.49 L200.11,497.71 L200.88,497.93 L201.65,498.15 L202.41,498.38 L203.18,498.61 L203.95,498.84 L204.71,499.08 L205.48,499.31 L206.24,499.55 L207.00,499.79 L207.77,500.03 L208.53,500.27 L209.29,500.52 L210.06,500.76 L210.82,501.00 L211.58,501.25 L212.34,501.49 L213.11,501.74 L213.87,501.98 L214.63,502.23 L215.39,502.47 L216.16,502.71 L216.92,502.96 L217.68,503.20 L218.45,503.44 L219.21,503.68 L219.97,503.93 L220.73,504.17 L221.49,504.42 L222.26,504.67 L223.02,504.91 L223.78,505.16 L224.54,505.41 L225.30,505.66 L226.06,505.91 L226.82,506.17 L227.58,506.42 L228.34,506.67 L229.10,506.92 L229.86,507.17 L230.62,507.41 L231.38,507.66 L232.14,507.91 L232.91,508.15 L233.67,508.39 L234.43,508.64 L235.19,508.87 L235.96,509.11 L236.72,509.35 L237.49,509.58 L238.26,509.81 L239.02,510.04 L239.79,510.26 L240.56,510.49 L241.32,510.72 L242.09,510.95 L242.86,511.17 L243.63,511.40 L244.40,511.62 L245.17,511.85 L245.94,512.07 L246.71,512.29 L247.48,512.51 L248.25,512.73 L249.02,512.95 L249.79,513.16 L250.56,513.38 L251.33,513.59 L252.11,513.79 L252.88,514.00 L253.66,514.20 L254.43,514.40 L255.21,514.60 L255.98,514.79 L256.76,514.98 L257.53,515.17 L258.31,515.35 L259.09,515.53 L259.87,515.71 L260.65,515.88 L261.43,516.06 L262.21,516.23 L262.99,516.40 L263.78,516.57 L264.56,516.74 L265.34,516.91 L266.13,517.07 L266.91,517.23 L267.70,517.39 L268.48,517.55 L269.27,517.71 L270.05,517.86 L270.84,518.02 L271.63,518.16 L272.42,518.31 L273.20,518.45 L273.99,518.59 L274.78,518.73 L275.57,518.87 L276.36,519.00 L277.15,519.13 L277.94,519.25 L278.73,519.38 L279.52,519.49 L280.31,519.61 L281.10,519.72 L281.89,519.84 L282.68,519.95 L283.47,520.06 L284.27,520.16 L285.06,520.27 L285.85,520.37 L286.65,520.47 L287.44,520.57 L288.24,520.67 L289.03,520.77 L289.83,520.86 L290.62,520.95 L291.42,521.05 L292.22,521.14 L293.01,521.23 L293.81,521.31 L294.60,521.40 L295.40,521.49 L296.20,521.57 L296.99,521.65 L297.79,521.73 L298.58,521.82 L299.38,521.90 L300.18,521.97 L300.97,522.05 L301.77,522.13 L302.57,522.20 L303.36,522.27 L304.16,522.35 L304.96,522.42 L305.75,522.49 L306.55,522.56 L307.35,522.63 L308.14,522.69 L308.94,522.76 L309.74,522.83 L310.54,522.89 L311.34,522.96 L312.13,523.02 L312.93,523.08 L313.73,523.15 L314.53,523.21 L315.33,523.27 L316.12,523.33 L316.92,523.40 L317.72,523.46 L318.52,523.52 L319.32,523.58 L320.11,523.64 L320.91,523.70 L321.71,523.76 L322.51,523.83 L323.31,523.89 L324.10,523.95 L324.90,524.01 L325.70,524.07 L326.50,524.14 L327.30,524.20 L328.09,524.26 L328.89,524.32 L329.69,524.39 L330.49,524.45 L331.28,524.51 L332.08,524.57 L332.88,524.63 L333.68,524.69 L334.48,524.75 L335.27,524.81 L336.07,524.87 L336.87,524.93 L337.67,524.99 L338.47,525.05 L339.26,525.11 L340.06,525.17 L340.86,525.23 L341.66,525.29 L342.46,525.35 L343.26,525.41 L344.05,525.47 L344.85,525.53 L345.65,525.59 L346.45,525.64 L347.25,525.70 L348.04,525.76 L348.84,525.82 L349.64,525.88 L350.44,525.94 L351.24,526.00 L352.03,526.06 L352.83,526.11 L353.63,526.17 L354.43,526.23 L355.23,526.29 L356.03,526.35 L356.82,526.41 L357.62,526.47 L358.42,526.53 L359.22,526.59 L360.02,526.64 L360.81,526.70 L361.61,526.76 L362.41,526.82 L363.21,526.88 L364.01,526.94 L364.80,527.00 L365.60,527.06 L366.40,527.12 L367.20,527.18 L368.00,527.24 L368.79,527.30 L369.59,527.36 L370.39,527.42 L371.19,527.48 L371.99,527.54 L372.78,527.60 L373.58,527.66 L374.38,527.72 L375.18,527.78 L375.98,527.84 L376.77,527.90 L377.57,527.96 L378.37,528.02 L379.17,528.08 L379.97,528.14 L380.76,528.20 L381.56,528.26 L382.36,528.32 L383.16,528.38 L383.96,528.45 L384.76,528.51 L385.55,528.57 L386.35,528.63 L387.15,528.69 L387.95,528.75 L388.75,528.81 L389.54,528.87 L390.34,528.93 L391.14,528.99 L391.94,529.05 L392.74,529.11 L393.53,529.17 L394.33,529.23 L395.13,529.29 L395.93,529.35 L396.72,529.41 L397.52,529.48 L398.32,529.54 L399.12,529.60 L399.92,529.66 L400.71,529.72 L401.51,529.78 L402.31,529.84 L403.11,529.90 L403.91,529.96 L404.70,530.03 L405.50,530.09 L406.30,530.15 L407.10,530.21 L407.90,530.27 L408.69,530.33 L409.49,530.39 L410.29,530.45 L411.09,530.52 L411.89,530.58 L412.68,530.64 L413.48,530.70 L414.28,530.76 L415.08,530.82 L415.88,530.88 L416.67,530.94 L417.47,531.00 L418.27,531.07 L419.07,531.13 L419.87,531.19 L420.66,531.25 L421.46,531.31 L422.26,531.37 L423.06,531.44 L423.86,531.50 L424.65,531.56 L425.45,531.62 L426.25,531.68 L427.05,531.75 L427.84,531.81 L428.64,531.87 L429.44,531.93 L430.24,532.00 L431.04,532.06 L431.83,532.12 L432.63,532.19 L433.43,532.25 L434.23,532.31 L435.02,532.38 L435.82,532.44 L436.62,532.51 L437.42,532.57 L438.22,532.64 L439.01,532.70 L439.81,532.77 L440.61,532.83 L441.41,532.90 L442.20,532.96 L443.00,533.03 L443.80,533.10 L444.60,533.16 L445.39,533.23 L446.19,533.30 L446.99,533.37 L447.79,533.44 L448.58,533.50 L449.38,533.57 L450.18,533.64 L450.97,533.71 L451.77,533.78 L452.57,533.85 L453.37,533.92 L454.16,533.99 L454.96,534.06 L455.76,534.14 L456.55,534.21 L457.35,534.28 L458.15,534.35 L458.95,534.42 L459.74,534.49 L460.54,534.56 L461.34,534.64 L462.13,534.71 L462.93,534.78 L463.73,534.85 L464.52,534.93 L465.32,535.00 L466.12,535.07 L466.92,535.14 L467.71,535.22 L468.51,535.29 L469.31,535.36 L470.10,535.44 L470.90,535.51 L471.70,535.59 L472.49,535.66 L473.29,535.73 L474.09,535.81 L474.88,535.88 L475.68,535.96 L476.48,536.03 L477.28,536.11 L478.07,536.18 L478.87,536.26 L479.67,536.33 L480.46,536.41 L481.26,536.48 L482.06,536.56 L482.85,536.64 L483.65,536.71 L484.45,536.79 L485.24,536.86 L486.04,536.94 L486.84,537.02 L487.63,537.10 L488.43,537.17 L489.22,537.25 L490.02,537.33 L490.82,537.41 L491.61,537.49 L492.41,537.56 L493.21,537.64 L494.00,537.72 L494.80,537.80" fill="none" stroke="#2a2a2a" stroke-width="2" stroke-linecap="round" stroke-linejoin="round"/>
<path d="M78.20,514.20 L78.39,513.41 L78.61,512.62 L78.86,511.85 L79.13,511.10 L79.42,510.35 L79.72,509.62 L80.05,508.90 L80.40,508.19 L80.79,507.49 L81.21,506.80 L81.66,506.12 L82.13,505.45 L82.62,504.81 L83.12,504.20 L83.63,503.61 L84.17,503.03 L84.73,502.47 L85.31,501.92 L85.91,501.38 L86.52,500.86 L87.15,500.34 L87.78,499.83 L88.42,499.32 L89.06,498.82 L89.69,498.32 L90.33,497.83 L90.95,497.34 L91.59,496.84 L92.23,496.36 L92.87,495.88 L93.52,495.40 L94.17,494.93 L94.82,494.46 L95.48,494.01 L96.15,493.56 L96.82,493.12 L97.49,492.69 L98.17,492.26 L98.85,491.85 L99.53,491.43 L100.22,491.03 L100.91,490.62 L101.61,490.22 L102.31,489.83 L103.01,489.44 L103.71,489.05 L104.42,488.67 L105.13,488.29 L105.84,487.91 L106.55,487.54 L107.27,487.17 L107.98,486.81 L108.70,486.45 L109.42,486.09 L110.14,485.73 L110.86,485.38 L111.58,485.03 L112.30,484.68 L113.02,484.34 L113.75,483.99 L114.47,483.66 L115.20,483.32 L115.93,482.98 L116.66,482.65 L117.39,482.33 L118.12,482.00 L118.86,481.68 L119.60,481.36 L120.33,481.04 L121.07,480.73 L121.81,480.42 L122.55,480.11 L123.30,479.80 L124.04,479.50 L124.78,479.20 L125.53,478.91 L126.27,478.61 L127.02,478.32 L127.77,478.03 L128.51,477.74 L129.26,477.46 L130.01,477.18 L130.77,476.90 L131.52,476.62 L132.27,476.35 L133.03,476.08 L133.78,475.81 L134.54,475.54 L135.30,475.28 L136.06,475.01 L136.81,474.75 L137.57,474.50 L138.33,474.24 L139.10,473.99 L139.86,473.74 L140.62,473.49 L141.38,473.24 L142.14,473.00 L142.91,472.75 L143.67,472.51 L144.44,472.28 L145.20,472.04 L145.97,471.80 L146.74,471.57 L147.51,471.34 L148.28,471.11 L149.05,470.89 L149.82,470.66 L150.59,470.44 L151.36,470.22 L152.13,470.00 L152.90,469.78 L153.67,469.57 L154.45,469.36 L155.22,469.15 L155.99,468.94 L156.77,468.73 L157.54,468.53 L158.32,468.33 L159.10,468.13 L159.87,467.93 L160.65,467.73 L161.43,467.54 L162.21,467.34 L162.98,467.15 L163.76,466.96 L164.54,466.77 L165.32,466.59 L166.10,466.40 L166.89,466.22 L167.67,466.04 L168.45,465.86 L169.23,465.68 L170.01,465.50 L170.79,465.33 L171.58,465.16 L172.36,464.98 L173.14,464.81 L173.93,464.64 L174.71,464.47 L175.49,464.31 L176.28,464.14 L177.06,463.98 L177.85,463.82 L178.63,463.66 L179.42,463.50 L180.21,463.34 L180.99,463.18 L181.78,463.03 L182.57,462.88 L183.36,462.73 L184.14,462.58 L184.93,462.44 L185.72,462.29 L186.51,462.15 L187.30,462.01 L188.09,461.87 L188.88,461.73 L189.67,461.60 L190.46,461.46 L191.25,461.33 L192.04,461.20 L192.83,461.07 L193.62,460.95 L194.42,460.82 L195.21,460.70 L196.00,460.57 L196.79,460.45 L197.59,460.33 L198.38,460.21 L199.17,460.10 L199.96,459.98 L200.76,459.86 L201.55,459.75 L202.34,459.63 L203.14,459.52 L203.93,459.40 L204.72,459.29 L205.52,459.18 L206.31,459.07 L207.11,458.96 L207.90,458.85 L208.70,458.74 L209.49,458.63 L210.28,458.52 L211.08,458.42 L211.87,458.31 L212.67,458.20 L213.46,458.10 L214.26,457.99 L215.05,457.89 L215.85,457.78 L216.64,457.68 L217.44,457.58 L218.23,457.47 L219.03,457.37 L219.83,457.27 L220.62,457.17 L221.42,457.06 L222.21,456.96 L223.01,456.86 L223.80,456.76 L224.60,456.66 L225.39,456.56 L226.19,456.46 L226.98,456.36 L227.78,456.26 L228.57,456.17 L229.37,456.07 L230.17,455.97 L230.96,455.88 L231.76,455.78 L232.55,455.68 L233.35,455.59 L234.15,455.49 L234.94,455.40 L235.74,455.31 L236.54,455.21 L237.33,455.12 L238.13,455.03 L238.92,454.93 L239.72,454.84 L240.52,454.75 L241.31,454.66 L242.11,454.57 L242.91,454.48 L243.70,454.39 L244.50,454.30 L245.30,454.21 L246.09,454.12 L246.89,454.03 L247.69,453.94 L248.48,453.85 L249.28,453.76 L250.08,453.67 L250.87,453.58 L251.67,453.49 L252.47,453.40 L253.27,453.31 L254.06,453.22 L254.86,453.14 L255.66,453.05 L256.45,452.96 L257.25,452.87 L258.05,452.79 L258.84,452.70 L259.64,452.62 L260.44,452.53 L261.24,452.45 L262.03,452.36 L262.83,452.28 L263.63,452.19 L264.42,452.11 L265.22,452.02 L266.02,451.94 L266.82,451.86 L267.61,451.77 L268.41,451.69 L269.21,451.61 L270.01,451.52 L270.80,451.44 L271.60,451.36 L272.40,451.27 L273.20,451.19 L273.99,451.11 L274.79,451.02 L275.59,450.94 L276.39,450.86 L277.18,450.77 L277.98,450.69 L278.78,450.61 L279.58,450.52 L280.37,450.44 L281.17,450.35 L281.97,450.27 L282.76,450.18 L283.56,450.10 L284.36,450.01 L285.16,449.93 L285.95,449.84 L286.75,449.76 L287.55,449.68 L288.35,449.59 L289.14,449.51 L289.94,449.43 L290.74,449.34 L291.54,449.26 L292.33,449.18 L293.13,449.09 L293.93,449.01 L294.73,448.93 L295.52,448.84 L296.32,448.76 L297.12,448.67 L297.92,448.59 L298.71,448.51 L299.51,448.42 L300.31,448.34 L301.10,448.25 L301.90,448.16 L302.70,448.08 L303.50,447.99 L304.29,447.90 L305.09,447.81 L305.89,447.72 L306.68,447.63 L307.48,447.54 L308.28,447.45 L309.07,447.36 L309.87,447.27 L310.66,447.17 L311.46,447.08 L312.26,446.98 L313.05,446.89 L313.85,446.79 L314.64,446.69 L315.44,446.60 L316.24,446.50 L317.03,446.40 L317.83,446.30 L318.62,446.20 L319.42,446.10 L320.21,445.99 L321.01,445.89 L321.80,445.78 L322.60,445.67 L323.39,445.55 L324.18,445.44 L324.98,445.32 L325.77,445.20 L326.56,445.08 L327.35,444.95 L328.14,444.82 L328.93,444.69 L329.73,444.56 L330.52,444.43 L331.31,444.29 L332.10,444.15 L332.89,444.01 L333.68,443.87 L334.47,443.72 L335.26,443.57 L336.05,443.42 L336.84,443.27 L337.63,443.11 L338.41,442.95 L339.20,442.79 L339.98,442.63 L340.77,442.46 L341.55,442.29 L342.33,442.11 L343.11,441.94 L343.89,441.76 L344.67,441.57 L345.45,441.39 L346.22,441.20 L347.00,441.00 L347.77,440.79 L348.55,440.59 L349.32,440.37 L350.09,440.15 L350.86,439.93 L351.63,439.70 L352.40,439.46 L353.17,439.22 L353.94,438.98 L354.70,438.73 L355.47,438.48 L356.23,438.22 L356.99,437.96 L357.75,437.70 L358.50,437.43 L359.25,437.16 L360.01,436.89 L360.75,436.61 L361.51,436.33 L362.28,436.05 L363.07,435.77 L363.86,435.49 L364.65,435.20 L365.44,434.90 L366.21,434.59 L366.97,434.27 L367.70,433.93 L368.41,433.57 L369.08,433.20 L369.71,432.80 L370.30,432.38 L370.85,431.92 L371.39,431.40 L371.92,430.84 L372.44,430.23 L372.94,429.58 L373.43,428.89 L373.89,428.19 L374.34,427.46 L374.75,426.72 L375.15,425.98 L375.51,425.23 L375.84,424.49 L376.14,423.76 L376.41,423.04 L376.66,422.30 L376.89,421.55 L377.11,420.79 L377.32,420.02 L377.52,419.24 L377.71,418.46 L377.89,417.66 L378.06,416.87 L378.23,416.07 L378.40,415.27 L378.57,414.48 L378.73,413.68 L378.90,412.89 L379.08,412.10 L379.25,411.32 L379.43,410.54 L379.60,409.76 L379.76,408.97 L379.93,408.19 L380.09,407.40 L380.25,406.62 L380.41,405.83 L380.57,405.05 L380.73,404.26 L380.89,403.47 L381.04,402.69 L381.20,401.90 L381.35,401.11 L381.51,400.33 L381.66,399.54 L381.81,398.75 L381.96,397.96 L382.11,397.18 L382.25,396.39 L382.40,395.60" fill="none" stroke="#2a2a2a" stroke-width="2" stroke-linecap="round" stroke-linejoin="round"/>
<path d="M78.90,677.20 L79.64,677.52 L80.39,677.82 L81.14,678.10 L81.90,678.32 L82.68,678.51 L83.45,678.69 L84.24,678.86 L85.02,679.02 L85.81,679.17 L86.61,679.31 L87.40,679.44 L88.20,679.56 L89.00,679.68 L89.79,679.79 L90.59,679.90 L91.38,680.00 L92.18,680.10 L92.97,680.19 L93.77,680.28 L94.57,680.37 L95.36,680.45 L96.16,680.53 L96.96,680.61 L97.76,680.69 L98.56,680.76 L99.36,680.84 L100.16,680.91 L100.96,680.98 L101.76,681.06 L102.56,681.13 L103.36,681.20 L104.16,681.28 L104.95,681.35 L105.75,681.43 L106.55,681.51 L107.35,681.58 L108.15,681.66 L108.95,681.73 L109.75,681.80 L110.54,681.88 L111.34,681.95 L112.14,682.02 L112.94,682.09 L113.74,682.17 L114.54,682.24 L115.34,682.31 L116.14,682.39 L116.94,682.46 L117.73,682.53 L118.53,682.61 L119.33,682.68 L120.13,682.76 L120.93,682.84 L121.73,682.91 L122.53,682.99 L123.32,683.07 L124.12,683.15 L124.92,683.22 L125.72,683.30 L126.52,683.38 L127.32,683.46 L128.11,683.54 L128.91,683.62 L129.71,683.70 L130.51,683.77 L131.31,683.85 L132.11,683.93 L132.90,684.01 L133.70,684.09 L134.50,684.17 L135.30,684.25 L136.10,684.33 L136.90,684.40 L137.69,684.48 L138.49,684.56 L139.29,684.64 L140.09,684.72 L140.89,684.80 L141.69,684.88 L142.48,684.96 L143.28,685.04 L144.08,685.12 L144.88,685.19 L145.68,685.27 L146.48,685.35 L147.27,685.43 L148.07,685.51 L148.87,685.59 L149.67,685.66 L150.47,685.74 L151.27,685.82 L152.06,685.90 L152.86,685.98 L153.66,686.05 L154.46,686.13 L155.26,686.21 L156.06,686.29 L156.85,686.36 L157.65,686.44 L158.45,686.52 L159.25,686.60 L160.05,686.67 L160.85,686.75 L161.64,686.83 L162.44,686.90 L163.24,686.98 L164.04,687.06 L164.84,687.13 L165.64,687.21 L166.44,687.28 L167.24,687.36 L168.03,687.43 L168.83,687.50 L169.63,687.58 L170.43,687.65 L171.23,687.73 L172.03,687.80 L172.83,687.88 L173.63,687.95 L174.42,688.03 L175.22,688.10 L176.02,688.18 L176.82,688.26 L177.62,688.33 L178.42,688.41 L179.21,688.49 L180.01,688.56 L180.81,688.64 L181.61,688.72 L182.41,688.80 L183.21,688.87 L184.01,688.95 L184.80,689.03 L185.60,689.11 L186.40,689.19 L187.20,689.27 L188.00,689.34 L188.80,689.42 L189.59,689.50 L190.39,689.59 L191.19,689.67 L191.99,689.75 L192.79,689.83 L193.58,689.92 L194.38,690.00 L195.18,690.08 L195.98,690.17 L196.77,690.26 L197.57,690.34 L198.37,690.43 L199.17,690.52 L199.96,690.61 L200.76,690.70 L201.56,690.79 L202.35,690.88 L203.15,690.97 L203.95,691.06 L204.75,691.15 L205.54,691.24 L206.34,691.34 L207.14,691.43 L207.93,691.52 L208.73,691.62 L209.53,691.71 L210.32,691.81 L211.12,691.90 L211.92,692.00 L212.71,692.09 L213.51,692.19 L214.31,692.29 L215.10,692.39 L215.90,692.49 L216.69,692.59 L217.49,692.69 L218.29,692.79 L219.08,692.89 L219.88,692.99 L220.67,693.09 L221.47,693.20 L222.26,693.30 L223.06,693.40 L223.85,693.51 L224.65,693.61 L225.44,693.72 L226.24,693.82 L227.03,693.93 L227.83,694.04 L228.62,694.15 L229.42,694.26 L230.21,694.36 L231.01,694.47 L231.80,694.58 L232.60,694.69 L233.39,694.81 L234.19,694.92 L234.98,695.03 L235.78,695.14 L236.57,695.26 L237.36,695.37 L238.16,695.49 L238.95,695.60 L239.75,695.72 L240.54,695.84 L241.33,695.96 L242.13,696.08 L242.92,696.20 L243.71,696.32 L244.51,696.44 L245.30,696.56 L246.09,696.69 L246.88,696.81 L247.68,696.94 L248.47,697.07 L249.26,697.19 L250.05,697.32 L250.84,697.45 L251.63,697.58 L252.43,697.71 L253.22,697.85 L254.01,697.98 L254.80,698.12 L255.59,698.25 L256.38,698.39 L257.17,698.53 L257.96,698.68 L258.74,698.82 L259.53,698.97 L260.32,699.12 L261.11,699.27 L261.90,699.42 L262.69,699.57 L263.47,699.73 L264.26,699.89 L265.05,700.04 L265.83,700.20 L266.62,700.37 L267.40,700.53 L268.19,700.69 L268.97,700.86 L269.76,701.02 L270.54,701.19 L271.32,701.37 L272.11,701.54 L272.89,701.72 L273.67,701.90 L274.45,702.08 L275.23,702.26 L276.02,702.45 L276.80,702.63 L277.58,702.82 L278.36,703.00 L279.14,703.19 L279.92,703.38 L280.70,703.56 L281.48,703.75 L282.26,703.94 L283.04,704.12 L283.82,704.31 L284.60,704.50 L285.38,704.68 L286.16,704.87 L286.94,705.06 L287.72,705.25 L288.50,705.45 L289.28,705.64 L290.05,705.83 L290.83,706.02 L291.61,706.21 L292.39,706.41 L293.17,706.60 L293.95,706.79 L294.73,706.98 L295.51,707.17 L296.29,707.36 L297.07,707.55 L297.84,707.74 L298.62,707.93 L299.40,708.12 L300.18,708.30 L300.96,708.49 L301.74,708.68 L302.52,708.87 L303.30,709.05 L304.08,709.24 L304.87,709.43 L305.65,709.61 L306.43,709.80 L307.21,709.98 L307.99,710.17 L308.77,710.35 L309.55,710.54 L310.33,710.72 L311.11,710.91 L311.89,711.09 L312.67,711.28 L313.45,711.46 L314.23,711.64 L315.01,711.82 L315.80,712.01 L316.58,712.19 L317.36,712.37 L318.14,712.55 L318.92,712.73 L319.70,712.91 L320.48,713.09 L321.27,713.27 L322.05,713.46 L322.83,713.64 L323.61,713.82 L324.39,714.00 L325.17,714.18 L325.95,714.36 L326.74,714.54 L327.52,714.72 L328.30,714.90 L329.08,715.09 L329.86,715.27 L330.64,715.45 L331.42,715.63 L332.21,715.81 L332.99,715.99 L333.77,716.17 L334.55,716.36 L335.33,716.54 L336.11,716.72 L336.89,716.90 L337.68,717.08 L338.46,717.26 L339.24,717.44 L340.02,717.63 L340.80,717.81 L341.58,717.99 L342.36,718.17 L343.15,718.35 L343.93,718.53 L344.71,718.71 L345.49,718.89 L346.27,719.08 L347.05,719.26 L347.83,719.44 L348.62,719.62 L349.40,719.80 L350.18,719.98 L350.96,720.16 L351.74,720.34 L352.52,720.53 L353.30,720.71 L354.09,720.89 L354.87,721.07 L355.65,721.25 L356.43,721.43 L357.21,721.61 L357.99,721.79 L358.77,721.98 L359.56,722.16 L360.34,722.34 L361.12,722.52 L361.90,722.70" fill="none" stroke="#2a2a2a" stroke-width="2" stroke-linecap="round" stroke-linejoin="round"/>
<path d="M78.20,706.20 L78.92,705.86 L79.65,705.52 L80.37,705.18 L81.10,704.84 L81.82,704.51 L82.55,704.17 L83.28,703.83 L84.00,703.50 L84.73,703.17 L85.46,702.83 L86.19,702.50 L86.92,702.17 L87.64,701.84 L88.37,701.51 L89.10,701.18 L89.83,700.85 L90.56,700.53 L91.29,700.20 L92.02,699.88 L92.76,699.55 L93.49,699.23 L94.22,698.90 L94.95,698.58 L95.68,698.25 L96.42,697.93 L97.15,697.61 L97.88,697.29 L98.62,696.97 L99.35,696.65 L100.09,696.34 L100.82,696.02 L101.56,695.71 L102.29,695.40 L103.03,695.09 L103.77,694.78 L104.51,694.48 L105.25,694.17 L105.99,693.87 L106.73,693.57 L107.47,693.27 L108.22,692.97 L108.96,692.68 L109.70,692.38 L110.45,692.09 L111.19,691.80 L111.94,691.51 L112.69,691.22 L113.43,690.93 L114.18,690.64 L114.93,690.36 L115.68,690.08 L116.43,689.79 L117.18,689.51 L117.93,689.24 L118.68,688.96 L119.43,688.68 L120.18,688.41 L120.93,688.14 L121.68,687.87 L122.44,687.60 L123.19,687.33 L123.95,687.07 L124.70,686.80 L125.46,686.54 L126.21,686.28 L126.97,686.02 L127.73,685.76 L128.48,685.50 L129.24,685.24 L130.00,684.98 L130.76,684.73 L131.52,684.47 L132.28,684.22 L133.03,683.96 L133.79,683.71 L134.55,683.45 L135.31,683.20 L136.07,682.95 L136.83,682.69 L137.59,682.44 L138.35,682.19 L139.11,681.94 L139.87,681.69 L140.63,681.44 L141.39,681.20 L142.15,680.95 L142.91,680.70 L143.67,680.46 L144.44,680.21 L145.20,679.97 L145.96,679.72 L146.72,679.48 L147.48,679.24 L148.25,679.00 L149.01,678.76 L149.77,678.51 L150.54,678.27 L151.30,678.03 L152.06,677.79 L152.83,677.55 L153.59,677.32 L154.35,677.08 L155.12,676.84 L155.88,676.60 L156.65,676.37 L157.41,676.13 L158.18,675.90 L158.94,675.67 L159.71,675.44 L160.48,675.21 L161.24,674.98 L162.01,674.75 L162.78,674.53 L163.55,674.31 L164.32,674.09 L165.08,673.87 L165.85,673.65 L166.62,673.43 L167.40,673.22 L168.17,673.00 L168.94,672.79 L169.71,672.58 L170.48,672.37 L171.25,672.16 L172.03,671.95 L172.80,671.74 L173.57,671.53 L174.34,671.32 L175.12,671.11 L175.89,670.91 L176.66,670.70 L177.44,670.49 L178.21,670.29 L178.98,670.09 L179.76,669.88 L180.53,669.68 L181.31,669.48 L182.08,669.29 L182.86,669.09 L183.63,668.89 L184.41,668.70 L185.18,668.50 L185.96,668.31 L186.74,668.11 L187.51,667.91 L188.29,667.72 L189.06,667.52 L189.84,667.32 L190.61,667.12 L191.39,666.93 L192.16,666.72 L192.94,666.52 L193.71,666.32 L194.49,666.11 L195.26,665.91 L196.03,665.70 L196.80,665.49 L197.57,665.27 L198.34,665.06 L199.12,664.85 L199.89,664.64 L200.66,664.42 L201.43,664.20 L202.20,663.99 L202.97,663.77 L203.74,663.55 L204.51,663.32 L205.28,663.10 L206.04,662.87 L206.81,662.64 L207.57,662.41 L208.34,662.17 L209.10,661.94 L209.86,661.70 L210.63,661.45 L211.39,661.21 L212.15,660.96 L212.91,660.71 L213.67,660.45 L214.43,660.20 L215.18,659.94 L215.94,659.67 L216.70,659.41 L217.45,659.14 L218.21,658.88 L218.96,658.61 L219.71,658.33 L220.46,658.06 L221.21,657.78 L221.96,657.50 L222.71,657.22 L223.46,656.94 L224.21,656.65 L224.95,656.36 L225.70,656.08 L226.45,655.79 L227.19,655.49 L227.94,655.20 L228.68,654.90 L229.43,654.60 L230.17,654.29 L230.91,653.98 L231.64,653.67 L232.38,653.35 L233.11,653.03 L233.84,652.71 L234.57,652.38 L235.29,652.04 L236.01,651.70 L236.73,651.35 L237.44,650.99 L238.16,650.62 L238.86,650.25 L239.57,649.86 L240.27,649.47 L240.97,649.08 L241.66,648.68 L242.35,648.27 L243.03,647.86 L243.73,647.44 L244.43,647.03 L245.12,646.61 L245.82,646.18 L246.49,645.73 L247.16,645.28 L247.80,644.81 L248.41,644.32 L248.99,643.80 L249.54,643.26 L250.08,642.68 L250.60,642.07 L251.10,641.43 L251.58,640.77 L252.05,640.10 L252.49,639.42 L252.90,638.73 L253.30,638.05 L253.67,637.36 L254.03,636.65 L254.38,635.92 L254.71,635.19 L255.03,634.45 L255.35,633.71 L255.65,632.97 L255.95,632.22 L256.25,631.47 L256.55,630.73 L256.83,629.99 L257.12,629.24 L257.39,628.49 L257.66,627.74 L257.93,626.98 L258.19,626.22 L258.45,625.47 L258.71,624.71 L258.97,623.95 L259.22,623.19 L259.48,622.43 L259.74,621.68 L260.00,620.92 L260.26,620.16 L260.51,619.40 L260.77,618.65 L261.02,617.89 L261.28,617.13 L261.53,616.37 L261.78,615.61 L262.03,614.85 L262.28,614.09 L262.53,613.33 L262.78,612.57 L263.03,611.81 L263.28,611.05 L263.54,610.29 L263.79,609.53 L264.04,608.77 L264.29,608.01 L264.54,607.25 L264.78,606.49 L265.03,605.72 L265.27,604.96 L265.52,604.20 L265.77,603.44 L266.02,602.68 L266.27,601.92 L266.53,601.16 L266.79,600.40 L267.06,599.65 L267.33,598.90 L267.61,598.15 L267.89,597.40 L268.18,596.66 L268.48,595.92 L268.79,595.18 L269.11,594.45 L269.42,593.71 L269.75,592.98 L270.07,592.25 L270.40,591.52 L270.73,590.78 L271.05,590.05 L271.38,589.32 L271.70,588.59 L272.03,587.86 L272.35,587.13 L272.68,586.40 L273.01,585.67 L273.34,584.94 L273.67,584.21 L274.00,583.48 L274.33,582.75 L274.66,582.03 L275.00,581.30" fill="none" stroke="#2a2a2a" stroke-width="2" stroke-linecap="round" stroke-linejoin="round"/>
<text x="413" y="112.0" font-size="26" fill="#151515" textLength="103.6" lengthAdjust="spacingAndGlyphs" stroke="#151515" stroke-width="0.55">SAC(<tspan font-style="italic">n</tspan>=9)</text>
<text x="413" y="297.3" font-size="26" fill="#151515" textLength="104.5" lengthAdjust="spacingAndGlyphs" stroke="#151515" stroke-width="0.55">SAC(<tspan font-style="italic">n</tspan>=7)</text>
<text x="413" y="482.1" font-size="26" fill="#151515" textLength="103.3" lengthAdjust="spacingAndGlyphs" stroke="#151515" stroke-width="0.55">SAC(<tspan font-style="italic">n</tspan>=5)</text>
<text x="413" y="667.00" font-size="26.5" fill="#151515" textLength="63" lengthAdjust="spacingAndGlyphs" stroke="#151515" stroke-width="0.55">SPAN</text>
<text transform="translate(20.2,470.2) rotate(-90)" font-size="31.5" fill="#151515" textLength="198" lengthAdjust="spacingAndGlyphs" stroke="#151515" stroke-width="0.55">Cell voltage / V</text>
<text x="23" y="818.5" font-size="30" fill="#151515" stroke="#151515" stroke-width="0.55">(a)</text>
<text x="158.4" y="818.3" font-size="31" fill="#151515" textLength="281.2" lengthAdjust="spacingAndGlyphs" stroke="#151515" stroke-width="0.55">Specific capacity / mAh</text>
<circle cx="462" cy="807.5" r="2.6" fill="#151515"/>
<text x="478" y="818.3" font-size="31" fill="#151515" stroke="#151515" stroke-width="0.55">g</text>
<text x="493.5" y="801.5" font-size="18" fill="#151515" stroke="#151515" stroke-width="0.35">-1</text>
</g>
<g id="pb">
<rect x="772.3" y="36.3" width="493.70" height="274.20" fill="none" stroke="#111" stroke-width="2.8" stroke-linejoin="round"/>
<path d="M821.67,36.30v3M821.67,310.50v-3M871.04,36.30v7M871.04,310.50v-7M920.41,36.30v3M920.41,310.50v-3M969.78,36.30v7M969.78,310.50v-7M1019.15,36.30v3M1019.15,310.50v-3M1068.52,36.30v7M1068.52,310.50v-7M1117.89,36.30v3M1117.89,310.50v-3M1167.26,36.30v7M1167.26,310.50v-7M1216.63,36.30v3M1216.63,310.50v-3M772.30,284.34h3.5M1266.00,284.34h-3.5M772.30,258.17h7M1266.00,258.17h-7M772.30,232.01h3.5M1266.00,232.01h-3.5M772.30,205.84h7M1266.00,205.84h-7M772.30,179.68h3.5M1266.00,179.68h-3.5M772.30,153.52h7M1266.00,153.52h-7M772.30,127.35h3.5M1266.00,127.35h-3.5M772.30,101.19h7M1266.00,101.19h-7M772.30,75.02h3.5M1266.00,75.02h-3.5M772.30,48.86h7M1266.00,48.86h-7" stroke="#111" stroke-width="1.8" fill="none"/>
<text x="764.5" y="319.70" text-anchor="end" font-size="30" fill="#151515" stroke="#151515" stroke-width="0.55">0</text>
<text x="764.5" y="267.37" text-anchor="end" font-size="30" fill="#151515" stroke="#151515" stroke-width="0.55">200</text>
<text x="764.5" y="215.04" text-anchor="end" font-size="30" fill="#151515" stroke="#151515" stroke-width="0.55">400</text>
<text x="764.5" y="162.72" text-anchor="end" font-size="30" fill="#151515" stroke="#151515" stroke-width="0.55">600</text>
<text x="764.5" y="110.39" text-anchor="end" font-size="30" fill="#151515" stroke="#151515" stroke-width="0.55">800</text>
<text x="764.5" y="58.06" text-anchor="end" font-size="30" fill="#151515" stroke="#151515" stroke-width="0.55">1000</text>
<text x="772.30" y="341" text-anchor="middle" font-size="30" fill="#151515" stroke="#151515" stroke-width="0.55">0</text>
<text x="871.04" y="341" text-anchor="middle" font-size="30" fill="#151515" stroke="#151515" stroke-width="0.55">10</text>
<text x="969.78" y="341" text-anchor="middle" font-size="30" fill="#151515" stroke="#151515" stroke-width="0.55">20</text>
<text x="1068.52" y="341" text-anchor="middle" font-size="30" fill="#151515" stroke="#151515" stroke-width="0.55">30</text>
<text x="1167.26" y="341" text-anchor="middle" font-size="30" fill="#151515" stroke="#151515" stroke-width="0.55">40</text>
<text x="1266.00" y="341" text-anchor="middle" font-size="30" fill="#151515" stroke="#151515" stroke-width="0.55">50</text>
<polyline points="781.18,52.50 791.06,138.70 800.94,145.80 810.82,148.40 820.69,150.90 830.57,152.50 840.45,153.10 850.33,154.10 860.21,154.90 870.09,155.10 879.97,155.50 889.85,156.00 899.73,156.20 909.61,156.60 919.48,156.60 929.36,157.00 939.24,157.20 949.12,157.40 959.00,157.80 968.88,158.00 978.76,158.20 988.64,158.40 998.52,158.60 1008.40,158.80 1018.27,159.00 1028.15,159.50 1038.03,159.90 1047.91,160.10 1057.79,160.50 1067.67,160.90 1077.55,161.10 1087.43,161.50 1097.31,161.90 1107.19,162.50 1117.07,162.90 1126.94,163.50 1136.82,163.90 1146.70,164.10 1156.58,164.50 1166.46,164.90 1176.34,165.50 1186.22,166.00 1196.10,166.20 1205.98,166.60 1215.86,167.00 1225.73,167.20 1235.61,167.80 1245.49,180.80 1255.37,166.20 1265.25,168.60" fill="none" stroke="#2a2a2a" stroke-width="1.8"/>
<circle cx="781.18" cy="52.50" r="4.2" fill="#fff" stroke="#2a2a2a" stroke-width="2.3"/>
<circle cx="791.06" cy="138.70" r="4.2" fill="#fff" stroke="#2a2a2a" stroke-width="2.3"/>
<circle cx="800.94" cy="145.80" r="4.2" fill="#fff" stroke="#2a2a2a" stroke-width="2.3"/>
<circle cx="810.82" cy="148.40" r="4.2" fill="#fff" stroke="#2a2a2a" stroke-width="2.3"/>
<circle cx="820.69" cy="150.90" r="4.2" fill="#fff" stroke="#2a2a2a" stroke-width="2.3"/>
<circle cx="830.57" cy="152.50" r="4.2" fill="#fff" stroke="#2a2a2a" stroke-width="2.3"/>
<circle cx="840.45" cy="153.10" r="4.2" fill="#fff" stroke="#2a2a2a" stroke-width="2.3"/>
<circle cx="850.33" cy="154.10" r="4.2" fill="#fff" stroke="#2a2a2a" stroke-width="2.3"/>
<circle cx="860.21" cy="154.90" r="4.2" fill="#fff" stroke="#2a2a2a" stroke-width="2.3"/>
<circle cx="870.09" cy="155.10" r="4.2" fill="#fff" stroke="#2a2a2a" stroke-width="2.3"/>
<circle cx="879.97" cy="155.50" r="4.2" fill="#fff" stroke="#2a2a2a" stroke-width="2.3"/>
<circle cx="889.85" cy="156.00" r="4.2" fill="#fff" stroke="#2a2a2a" stroke-width="2.3"/>
<circle cx="899.73" cy="156.20" r="4.2" fill="#fff" stroke="#2a2a2a" stroke-width="2.3"/>
<circle cx="909.61" cy="156.60" r="4.2" fill="#fff" stroke="#2a2a2a" stroke-width="2.3"/>
<circle cx="919.48" cy="156.60" r="4.2" fill="#fff" stroke="#2a2a2a" stroke-width="2.3"/>
<circle cx="929.36" cy="157.00" r="4.2" fill="#fff" stroke="#2a2a2a" stroke-width="2.3"/>
<circle cx="939.24" cy="157.20" r="4.2" fill="#fff" stroke="#2a2a2a" stroke-width="2.3"/>
<circle cx="949.12" cy="157.40" r="4.2" fill="#fff" stroke="#2a2a2a" stroke-width="2.3"/>
<circle cx="959.00" cy="157.80" r="4.2" fill="#fff" stroke="#2a2a2a" stroke-width="2.3"/>
<circle cx="968.88" cy="158.00" r="4.2" fill="#fff" stroke="#2a2a2a" stroke-width="2.3"/>
<circle cx="978.76" cy="158.20" r="4.2" fill="#fff" stroke="#2a2a2a" stroke-width="2.3"/>
<circle cx="988.64" cy="158.40" r="4.2" fill="#fff" stroke="#2a2a2a" stroke-width="2.3"/>
<circle cx="998.52" cy="158.60" r="4.2" fill="#fff" stroke="#2a2a2a" stroke-width="2.3"/>
<circle cx="1008.40" cy="158.80" r="4.2" fill="#fff" stroke="#2a2a2a" stroke-width="2.3"/>
<circle cx="1018.27" cy="159.00" r="4.2" fill="#fff" stroke="#2a2a2a" stroke-width="2.3"/>
<circle cx="1028.15" cy="159.50" r="4.2" fill="#fff" stroke="#2a2a2a" stroke-width="2.3"/>
<circle cx="1038.03" cy="159.90" r="4.2" fill="#fff" stroke="#2a2a2a" stroke-width="2.3"/>
<circle cx="1047.91" cy="160.10" r="4.2" fill="#fff" stroke="#2a2a2a" stroke-width="2.3"/>
<circle cx="1057.79" cy="160.50" r="4.2" fill="#fff" stroke="#2a2a2a" stroke-width="2.3"/>
<circle cx="1067.67" cy="160.90" r="4.2" fill="#fff" stroke="#2a2a2a" stroke-width="2.3"/>
<circle cx="1077.55" cy="161.10" r="4.2" fill="#fff" stroke="#2a2a2a" stroke-width="2.3"/>
<circle cx="1087.43" cy="161.50" r="4.2" fill="#fff" stroke="#2a2a2a" stroke-width="2.3"/>
<circle cx="1097.31" cy="161.90" r="4.2" fill="#fff" stroke="#2a2a2a" stroke-width="2.3"/>
<circle cx="1107.19" cy="162.50" r="4.2" fill="#fff" stroke="#2a2a2a" stroke-width="2.3"/>
<circle cx="1117.07" cy="162.90" r="4.2" fill="#fff" stroke="#2a2a2a" stroke-width="2.3"/>
<circle cx="1126.94" cy="163.50" r="4.2" fill="#fff" stroke="#2a2a2a" stroke-width="2.3"/>
<circle cx="1136.82" cy="163.90" r="4.2" fill="#fff" stroke="#2a2a2a" stroke-width="2.3"/>
<circle cx="1146.70" cy="164.10" r="4.2" fill="#fff" stroke="#2a2a2a" stroke-width="2.3"/>
<circle cx="1156.58" cy="164.50" r="4.2" fill="#fff" stroke="#2a2a2a" stroke-width="2.3"/>
<circle cx="1166.46" cy="164.90" r="4.2" fill="#fff" stroke="#2a2a2a" stroke-width="2.3"/>
<circle cx="1176.34" cy="165.50" r="4.2" fill="#fff" stroke="#2a2a2a" stroke-width="2.3"/>
<circle cx="1186.22" cy="166.00" r="4.2" fill="#fff" stroke="#2a2a2a" stroke-width="2.3"/>
<circle cx="1196.10" cy="166.20" r="4.2" fill="#fff" stroke="#2a2a2a" stroke-width="2.3"/>
<circle cx="1205.98" cy="166.60" r="4.2" fill="#fff" stroke="#2a2a2a" stroke-width="2.3"/>
<circle cx="1215.86" cy="167.00" r="4.2" fill="#fff" stroke="#2a2a2a" stroke-width="2.3"/>
<circle cx="1225.73" cy="167.20" r="4.2" fill="#fff" stroke="#2a2a2a" stroke-width="2.3"/>
<circle cx="1235.61" cy="167.80" r="4.2" fill="#fff" stroke="#2a2a2a" stroke-width="2.3"/>
<circle cx="1245.49" cy="180.80" r="4.2" fill="#fff" stroke="#2a2a2a" stroke-width="2.3"/>
<circle cx="1255.37" cy="166.20" r="4.2" fill="#fff" stroke="#2a2a2a" stroke-width="2.3"/>
<circle cx="1265.25" cy="168.60" r="4.2" fill="#fff" stroke="#2a2a2a" stroke-width="2.3"/>
<text x="1142.2" y="22.3" font-size="28" fill="#151515" textLength="124.3" lengthAdjust="spacingAndGlyphs" stroke="#151515" stroke-width="0.55">SAC(<tspan font-style="italic">n</tspan>=9)</text>
<text transform="translate(659,289.5) rotate(-90)" font-size="30.5" fill="#151515" textLength="213" lengthAdjust="spacingAndGlyphs" stroke="#151515" stroke-width="0.55">Discharge capacity</text>
<text transform="translate(692.3,228) rotate(-90)" font-size="30.5" fill="#151515" textLength="76" lengthAdjust="spacingAndGlyphs" stroke="#151515" stroke-width="0.55">/ mAh</text>
<circle cx="681.5" cy="140.4" r="2.3" fill="#151515"/>
<text transform="translate(692.3,124) rotate(-90)" font-size="30.5" fill="#151515" stroke="#151515" stroke-width="0.55">g</text>
<text transform="translate(678,109.5) rotate(-90)" font-size="18" fill="#151515" stroke="#151515" stroke-width="0.35">-1</text>
<text x="941.5" y="385.5" font-size="29" fill="#151515" textLength="162" lengthAdjust="spacingAndGlyphs" stroke="#151515" stroke-width="0.55">Cycle number</text>
<text x="668.5" y="385" font-size="29" fill="#151515" stroke="#151515" stroke-width="0.55">(b)</text>
</g>
<g id="pc">
<rect x="774.2" y="452.8" width="492.00" height="273.00" fill="none" stroke="#111" stroke-width="2.8" stroke-linejoin="round"/>
<path d="M844.45,452.80v3M844.45,725.80v-3M914.70,452.80v7M914.70,725.80v-7M984.95,452.80v3M984.95,725.80v-3M1055.20,452.80v7M1055.20,725.80v-7M1125.45,452.80v3M1125.45,725.80v-3M1195.70,452.80v7M1195.70,725.80v-7M774.20,710.70h3.5M1266.20,710.70h-3.5M774.20,695.45h3.5M1266.20,695.45h-3.5M774.20,680.20h7M1266.20,680.20h-7M774.20,664.95h3.5M1266.20,664.95h-3.5M774.20,649.70h3.5M1266.20,649.70h-3.5M774.20,634.45h3.5M1266.20,634.45h-3.5M774.20,619.20h3.5M1266.20,619.20h-3.5M774.20,603.95h7M1266.20,603.95h-7M774.20,588.70h3.5M1266.20,588.70h-3.5M774.20,573.45h3.5M1266.20,573.45h-3.5M774.20,558.20h3.5M1266.20,558.20h-3.5M774.20,542.95h3.5M1266.20,542.95h-3.5M774.20,527.70h7M1266.20,527.70h-7M774.20,512.45h3.5M1266.20,512.45h-3.5M774.20,497.20h3.5M1266.20,497.20h-3.5M774.20,481.95h3.5M1266.20,481.95h-3.5M774.20,466.70h3.5M1266.20,466.70h-3.5" stroke="#111" stroke-width="1.8" fill="none"/>
<text x="765" y="689.80" text-anchor="end" font-size="29" fill="#151515" stroke="#151515" stroke-width="0.55">1</text>
<text x="765" y="613.55" text-anchor="end" font-size="29" fill="#151515" stroke="#151515" stroke-width="0.55">1.5</text>
<text x="765" y="537.30" text-anchor="end" font-size="29" fill="#151515" stroke="#151515" stroke-width="0.55">2</text>
<text x="765" y="461.05" text-anchor="end" font-size="29" fill="#151515" stroke="#151515" stroke-width="0.55">2.5</text>
<text x="774.20" y="757.5" text-anchor="middle" font-size="29" fill="#151515" stroke="#151515" stroke-width="0.55">0</text>
<text x="914.70" y="757.5" text-anchor="middle" font-size="29" fill="#151515" stroke="#151515" stroke-width="0.55">200</text>
<text x="1055.20" y="757.5" text-anchor="middle" font-size="29" fill="#151515" stroke="#151515" stroke-width="0.55">400</text>
<text x="1195.70" y="757.5" text-anchor="middle" font-size="29" fill="#151515" stroke="#151515" stroke-width="0.55">600</text>
<path d="M775.20,514.60 L775.85,514.12 L776.53,513.69 L777.24,513.35 L777.99,513.02 L778.76,512.75 L779.54,512.64 L780.33,512.66 L781.14,512.68 L781.94,512.72 L782.73,512.79 L783.51,512.91 L784.29,513.09 L785.07,513.30 L785.84,513.53 L786.61,513.77 L787.38,514.01 L788.16,514.23 L788.93,514.44 L789.70,514.65 L790.47,514.86 L791.24,515.07 L792.01,515.29 L792.78,515.51 L793.55,515.73 L794.32,515.95 L795.09,516.17 L795.86,516.40 L796.63,516.62 L797.39,516.85 L798.16,517.07 L798.93,517.30 L799.70,517.52 L800.47,517.74 L801.24,517.96 L802.01,518.18 L802.78,518.39 L803.55,518.60 L804.32,518.81 L805.09,519.02 L805.87,519.23 L806.64,519.44 L807.41,519.65 L808.18,519.86 L808.96,520.07 L809.73,520.27 L810.50,520.48 L811.28,520.68 L812.05,520.89 L812.82,521.09 L813.60,521.29 L814.37,521.49 L815.15,521.69 L815.92,521.89 L816.70,522.09 L817.47,522.28 L818.25,522.47 L819.03,522.67 L819.80,522.86 L820.58,523.05 L821.36,523.24 L822.13,523.43 L822.91,523.61 L823.69,523.80 L824.47,523.98 L825.25,524.17 L826.03,524.35 L826.81,524.53 L827.58,524.72 L828.36,524.90 L829.14,525.08 L829.92,525.26 L830.70,525.44 L831.48,525.62 L832.26,525.80 L833.04,525.98 L833.82,526.15 L834.60,526.33 L835.38,526.51 L836.16,526.68 L836.94,526.86 L837.72,527.04 L838.50,527.21 L839.29,527.38 L840.07,527.56 L840.85,527.73 L841.63,527.90 L842.41,528.07 L843.19,528.24 L843.97,528.41 L844.76,528.58 L845.54,528.75 L846.32,528.92 L847.10,529.09 L847.88,529.25 L848.67,529.42 L849.45,529.59 L850.23,529.75 L851.02,529.92 L851.80,530.09 L852.58,530.25 L853.36,530.41 L854.15,530.58 L854.93,530.74 L855.71,530.90 L856.50,531.06 L857.28,531.22 L858.07,531.38 L858.85,531.53 L859.64,531.69 L860.42,531.84 L861.21,532.00 L861.99,532.15 L862.78,532.30 L863.56,532.45 L864.35,532.60 L865.14,532.74 L865.92,532.89 L866.71,533.04 L867.50,533.18 L868.28,533.32 L869.07,533.47 L869.86,533.61 L870.65,533.75 L871.43,533.89 L872.22,534.03 L873.01,534.16 L873.80,534.30 L874.59,534.43 L875.38,534.56 L876.17,534.70 L876.95,534.83 L877.74,534.95 L878.53,535.08 L879.32,535.20 L880.12,535.33 L880.91,535.45 L881.70,535.57 L882.49,535.69 L883.28,535.82 L884.07,535.94 L884.86,536.05 L885.65,536.17 L886.44,536.29 L887.23,536.41 L888.03,536.53 L888.82,536.65 L889.61,536.77 L890.40,536.88 L891.19,537.00 L891.98,537.12 L892.77,537.23 L893.57,537.35 L894.36,537.46 L895.15,537.58 L895.94,537.69 L896.73,537.80 L897.53,537.92 L898.32,538.03 L899.11,538.14 L899.90,538.26 L900.69,538.38 L901.48,538.49 L902.28,538.61 L903.07,538.73 L903.86,538.85 L904.65,538.97 L905.44,539.09 L906.23,539.22 L907.02,539.34 L907.81,539.47 L908.60,539.59 L909.39,539.72 L910.18,539.84 L910.97,539.97 L911.76,540.10 L912.55,540.23 L913.34,540.36 L914.13,540.49 L914.92,540.62 L915.71,540.75 L916.50,540.89 L917.28,541.02 L918.07,541.16 L918.86,541.30 L919.65,541.43 L920.44,541.57 L921.22,541.72 L922.01,541.86 L922.80,542.00 L923.58,542.15 L924.37,542.29 L925.16,542.44 L925.94,542.59 L926.73,542.73 L927.52,542.88 L928.30,543.03 L929.09,543.18 L929.87,543.33 L930.66,543.48 L931.45,543.63 L932.23,543.78 L933.02,543.93 L933.80,544.09 L934.59,544.24 L935.37,544.39 L936.16,544.54 L936.94,544.70 L937.73,544.85 L938.51,545.01 L939.30,545.16 L940.08,545.32 L940.87,545.48 L941.65,545.63 L942.44,545.79 L943.22,545.95 L944.01,546.10 L944.79,546.26 L945.58,546.42 L946.36,546.57 L947.14,546.73 L947.93,546.89 L948.71,547.04 L949.50,547.20 L950.28,547.35 L951.07,547.51 L951.85,547.67 L952.64,547.82 L953.42,547.98 L954.21,548.14 L954.99,548.29 L955.77,548.45 L956.56,548.61 L957.34,548.77 L958.13,548.92 L958.91,549.08 L959.70,549.24 L960.48,549.40 L961.27,549.55 L962.05,549.71 L962.83,549.87 L963.62,550.02 L964.40,550.18 L965.19,550.34 L965.97,550.50 L966.76,550.65 L967.54,550.81 L968.33,550.97 L969.11,551.12 L969.89,551.28 L970.68,551.44 L971.46,551.60 L972.25,551.76 L973.03,551.92 L973.82,552.08 L974.60,552.24 L975.38,552.40 L976.17,552.56 L976.95,552.72 L977.73,552.88 L978.52,553.04 L979.30,553.20 L980.08,553.37 L980.87,553.53 L981.65,553.69 L982.43,553.85 L983.22,554.02 L984.00,554.18 L984.78,554.35 L985.57,554.51 L986.35,554.68 L987.13,554.85 L987.91,555.02 L988.70,555.19 L989.48,555.36 L990.26,555.53 L991.04,555.71 L991.82,555.88 L992.60,556.06 L993.38,556.24 L994.16,556.41 L994.94,556.59 L995.72,556.77 L996.50,556.95 L997.28,557.14 L998.06,557.32 L998.84,557.51 L999.61,557.69 L1000.39,557.88 L1001.17,558.07 L1001.95,558.26 L1002.72,558.46 L1003.50,558.65 L1004.27,558.85 L1005.05,559.05 L1005.82,559.25 L1006.59,559.45 L1007.37,559.66 L1008.14,559.86 L1008.91,560.07 L1009.69,560.28 L1010.46,560.49 L1011.23,560.71 L1012.00,560.92 L1012.77,561.14 L1013.54,561.36 L1014.31,561.58 L1015.08,561.81 L1015.85,562.04 L1016.61,562.27 L1017.38,562.50 L1018.14,562.74 L1018.90,562.98 L1019.66,563.23 L1020.42,563.47 L1021.18,563.73 L1021.94,563.98 L1022.69,564.25 L1023.45,564.52 L1024.20,564.79 L1024.95,565.06 L1025.70,565.34 L1026.45,565.63 L1027.20,565.92 L1027.94,566.21 L1028.69,566.50 L1029.43,566.80 L1030.17,567.11 L1030.91,567.41 L1031.64,567.72 L1032.38,568.04 L1033.11,568.35 L1033.84,568.68 L1034.58,569.00 L1035.31,569.33 L1036.03,569.66 L1036.76,570.00 L1037.49,570.33 L1038.21,570.67 L1038.94,571.02 L1039.66,571.36 L1040.38,571.71 L1041.10,572.07 L1041.82,572.42 L1042.54,572.77 L1043.25,573.13 L1043.97,573.49 L1044.68,573.85 L1045.39,574.22 L1046.10,574.58 L1046.81,574.95 L1047.52,575.32 L1048.23,575.69 L1048.93,576.07 L1049.64,576.45 L1050.34,576.83 L1051.04,577.22 L1051.74,577.60 L1052.44,577.99 L1053.14,578.39 L1053.84,578.78 L1054.54,579.18 L1055.23,579.58 L1055.92,579.98 L1056.61,580.39 L1057.30,580.80 L1057.99,581.21 L1058.68,581.62 L1059.36,582.03 L1060.04,582.45 L1060.72,582.87 L1061.40,583.29 L1062.08,583.71 L1062.75,584.14 L1063.43,584.57 L1064.10,585.00 L1064.77,585.44 L1065.44,585.87 L1066.11,586.32 L1066.77,586.76 L1067.44,587.21 L1068.10,587.66 L1068.76,588.11 L1069.42,588.56 L1070.08,589.02 L1070.74,589.48 L1071.40,589.94 L1072.05,590.40 L1072.70,590.86 L1073.35,591.33 L1074.00,591.80 L1074.65,592.27 L1075.30,592.74 L1075.94,593.21 L1076.58,593.69 L1077.23,594.16 L1077.86,594.64 L1078.50,595.12 L1079.14,595.60 L1079.77,596.09 L1080.41,596.58 L1081.04,597.07 L1081.67,597.57 L1082.29,598.06 L1082.92,598.56 L1083.55,599.06 L1084.17,599.56 L1084.79,600.07 L1085.41,600.57 L1086.03,601.08 L1086.65,601.59 L1087.27,602.10 L1087.89,602.61 L1088.50,603.12 L1089.12,603.63 L1089.73,604.14 L1090.35,604.66 L1090.96,605.17 L1091.57,605.69 L1092.18,606.20 L1092.79,606.72 L1093.40,607.24 L1094.01,607.76 L1094.62,608.28 L1095.22,608.80 L1095.83,609.33 L1096.43,609.85 L1097.03,610.38 L1097.63,610.91 L1098.23,611.44 L1098.82,611.97 L1099.42,612.51 L1100.02,613.04 L1100.61,613.57 L1101.21,614.11 L1101.80,614.64 L1102.40,615.18 L1102.99,615.71 L1103.59,616.25 L1104.18,616.78 L1104.78,617.32 L1105.38,617.85 L1105.97,618.38 L1106.57,618.92 L1107.17,619.45 L1107.77,619.98 L1108.37,620.51 L1108.97,621.03 L1109.57,621.56 L1110.17,622.09 L1110.77,622.62 L1111.37,623.15 L1111.97,623.68 L1112.57,624.21 L1113.17,624.74 L1113.77,625.28 L1114.37,625.81 L1114.97,626.34 L1115.57,626.87 L1116.17,627.40 L1116.77,627.93 L1117.37,628.45 L1117.97,628.98 L1118.58,629.50 L1119.18,630.03 L1119.79,630.55 L1120.39,631.07 L1121.00,631.59 L1121.61,632.11 L1122.23,632.62 L1122.84,633.13 L1123.45,633.64 L1124.07,634.15 L1124.69,634.66 L1125.31,635.16 L1125.93,635.66 L1126.56,636.17 L1127.18,636.67 L1127.80,637.17 L1128.43,637.66 L1129.06,638.16 L1129.69,638.66 L1130.32,639.15 L1130.95,639.64 L1131.58,640.13 L1132.22,640.62 L1132.85,641.11 L1133.49,641.60 L1134.13,642.08 L1134.76,642.56 L1135.40,643.04 L1136.05,643.52 L1136.69,644.00 L1137.33,644.48 L1137.98,644.95 L1138.62,645.42 L1139.27,645.89 L1139.92,646.35 L1140.57,646.82 L1141.22,647.28 L1141.87,647.75 L1142.52,648.21 L1143.18,648.67 L1143.83,649.13 L1144.49,649.58 L1145.15,650.04 L1145.81,650.49 L1146.47,650.94 L1147.14,651.39 L1147.80,651.84 L1148.46,652.29 L1149.13,652.73 L1149.80,653.17 L1150.47,653.61 L1151.14,654.05 L1151.81,654.48 L1152.48,654.92 L1153.16,655.35 L1153.83,655.77 L1154.51,656.20 L1155.19,656.62 L1155.87,657.04 L1156.55,657.46 L1157.23,657.88 L1157.92,658.29 L1158.60,658.70 L1159.29,659.12 L1159.98,659.52 L1160.67,659.93 L1161.37,660.33 L1162.06,660.73 L1162.76,661.13 L1163.46,661.52 L1164.16,661.90 L1164.86,662.28 L1165.57,662.66 L1166.27,663.03 L1166.98,663.40 L1167.69,663.76 L1168.41,664.11 L1169.12,664.47 L1169.84,664.82 L1170.56,665.17 L1171.28,665.52 L1172.00,665.86 L1172.73,666.20 L1173.45,666.54 L1174.18,666.88 L1174.91,667.21 L1175.64,667.54 L1176.37,667.87 L1177.10,668.19 L1177.84,668.52 L1178.57,668.84 L1179.31,669.15 L1180.04,669.47 L1180.78,669.78 L1181.52,670.09 L1182.26,670.40 L1183.00,670.71 L1183.74,671.01 L1184.48,671.31 L1185.22,671.61 L1185.96,671.91 L1186.70,672.21 L1187.44,672.50 L1188.18,672.80 L1188.93,673.09 L1189.67,673.38 L1190.42,673.67 L1191.16,673.96 L1191.91,674.24 L1192.66,674.53 L1193.40,674.81 L1194.15,675.09 L1194.90,675.37 L1195.65,675.65 L1196.40,675.92 L1197.16,676.19 L1197.91,676.47 L1198.66,676.74 L1199.42,677.00 L1200.17,677.27 L1200.93,677.53 L1201.69,677.80 L1202.44,678.06 L1203.20,678.31 L1203.96,678.57 L1204.72,678.82 L1205.48,679.08 L1206.24,679.33 L1207.01,679.57 L1207.77,679.82 L1208.53,680.06 L1209.30,680.30" fill="none" stroke="#333333" stroke-width="2.4" stroke-linecap="round"/>
<path d="M775.50,530.20 L776.30,530.27 L777.10,530.34 L777.89,530.43 L778.69,530.52 L779.49,530.61 L780.28,530.72 L781.07,530.82 L781.87,530.94 L782.66,531.07 L783.45,531.20 L784.24,531.35 L785.02,531.49 L785.81,531.65 L786.60,531.80 L787.38,531.96 L788.16,532.12 L788.95,532.28 L789.73,532.45 L790.51,532.62 L791.30,532.80 L792.08,532.97 L792.86,533.15 L793.64,533.33 L794.42,533.52 L795.20,533.70 L795.98,533.89 L796.76,534.07 L797.54,534.26 L798.32,534.44 L799.10,534.63 L799.88,534.82 L800.66,535.00 L801.44,535.19 L802.22,535.37 L803.00,535.55 L803.78,535.73 L804.56,535.91 L805.34,536.09 L806.12,536.28 L806.90,536.46 L807.68,536.64 L808.46,536.83 L809.24,537.01 L810.02,537.19 L810.80,537.38 L811.58,537.56 L812.36,537.75 L813.14,537.93 L813.92,538.11 L814.70,538.29 L815.48,538.47 L816.26,538.65 L817.04,538.83 L817.82,539.01 L818.60,539.19 L819.38,539.37 L820.16,539.54 L820.95,539.72 L821.73,539.90 L822.51,540.07 L823.29,540.25 L824.07,540.42 L824.85,540.60 L825.64,540.77 L826.42,540.94 L827.20,541.12 L827.98,541.29 L828.77,541.46 L829.55,541.63 L830.33,541.80 L831.12,541.97 L831.90,542.14 L832.68,542.31 L833.46,542.48 L834.25,542.64 L835.03,542.81 L835.82,542.97 L836.60,543.14 L837.38,543.30 L838.17,543.47 L838.95,543.63 L839.74,543.79 L840.52,543.96 L841.31,544.12 L842.09,544.28 L842.88,544.44 L843.66,544.60 L844.45,544.76 L845.23,544.92 L846.02,545.08 L846.80,545.24 L847.59,545.40 L848.37,545.56 L849.16,545.72 L849.94,545.88 L850.73,546.04 L851.51,546.20 L852.30,546.36 L853.08,546.52 L853.87,546.67 L854.65,546.83 L855.44,546.99 L856.23,547.14 L857.01,547.30 L857.80,547.46 L858.58,547.61 L859.37,547.77 L860.15,547.92 L860.94,548.07 L861.73,548.23 L862.51,548.38 L863.30,548.54 L864.09,548.69 L864.87,548.84 L865.66,549.00 L866.45,549.15 L867.23,549.30 L868.02,549.45 L868.81,549.60 L869.59,549.75 L870.38,549.90 L871.17,550.05 L871.95,550.20 L872.74,550.35 L873.53,550.50 L874.32,550.64 L875.10,550.79 L875.89,550.93 L876.68,551.08 L877.47,551.22 L878.26,551.36 L879.05,551.50 L879.83,551.64 L880.62,551.78 L881.41,551.92 L882.20,552.06 L882.99,552.20 L883.78,552.34 L884.57,552.48 L885.36,552.61 L886.15,552.75 L886.94,552.89 L887.73,553.02 L888.52,553.16 L889.31,553.29 L890.10,553.43 L890.89,553.56 L891.68,553.70 L892.47,553.83 L893.26,553.96 L894.05,554.09 L894.84,554.22 L895.63,554.35 L896.42,554.48 L897.21,554.61 L898.00,554.74 L898.79,554.87 L899.58,555.00 L900.37,555.13 L901.16,555.26 L901.95,555.39 L902.74,555.53 L903.53,555.66 L904.32,555.80 L905.11,555.94 L905.90,556.07 L906.69,556.21 L907.48,556.35 L908.27,556.49 L909.06,556.63 L909.85,556.77 L910.63,556.91 L911.42,557.05 L912.21,557.19 L913.00,557.33 L913.79,557.47 L914.58,557.62 L915.36,557.77 L916.15,557.91 L916.94,558.06 L917.73,558.21 L918.51,558.36 L919.30,558.51 L920.09,558.67 L920.87,558.82 L921.66,558.98 L922.44,559.14 L923.23,559.29 L924.01,559.46 L924.80,559.62 L925.58,559.78 L926.37,559.94 L927.15,560.11 L927.93,560.27 L928.72,560.44 L929.50,560.60 L930.29,560.77 L931.07,560.94 L931.85,561.10 L932.64,561.27 L933.42,561.44 L934.20,561.61 L934.99,561.78 L935.77,561.95 L936.55,562.12 L937.33,562.29 L938.12,562.47 L938.90,562.64 L939.68,562.82 L940.46,562.99 L941.24,563.17 L942.02,563.34 L942.81,563.52 L943.59,563.70 L944.37,563.88 L945.15,564.05 L945.93,564.23 L946.71,564.41 L947.49,564.59 L948.27,564.76 L949.06,564.94 L949.84,565.12 L950.62,565.30 L951.40,565.48 L952.18,565.66 L952.96,565.84 L953.74,566.02 L954.52,566.20 L955.30,566.38 L956.08,566.56 L956.86,566.74 L957.64,566.92 L958.42,567.10 L959.20,567.29 L959.98,567.47 L960.76,567.66 L961.54,567.84 L962.32,568.03 L963.10,568.21 L963.88,568.40 L964.66,568.59 L965.44,568.77 L966.22,568.96 L967.00,569.15 L967.77,569.34 L968.55,569.53 L969.33,569.72 L970.11,569.91 L970.89,570.10 L971.67,570.29 L972.44,570.49 L973.22,570.68 L974.00,570.88 L974.77,571.08 L975.55,571.27 L976.32,571.48 L977.10,571.68 L977.87,571.88 L978.65,572.08 L979.42,572.29 L980.20,572.49 L980.97,572.70 L981.75,572.91 L982.52,573.12 L983.29,573.33 L984.07,573.54 L984.84,573.75 L985.61,573.96 L986.38,574.18 L987.16,574.40 L987.93,574.62 L988.70,574.84 L989.47,575.06 L990.23,575.28 L991.00,575.51 L991.77,575.74 L992.54,575.96 L993.30,576.20 L994.07,576.43 L994.84,576.66 L995.60,576.90 L996.37,577.14 L997.13,577.38 L997.90,577.62 L998.66,577.86 L999.42,578.11 L1000.19,578.36 L1000.95,578.60 L1001.71,578.86 L1002.47,579.11 L1003.23,579.36 L1003.99,579.62 L1004.75,579.87 L1005.51,580.13 L1006.26,580.39 L1007.02,580.65 L1007.78,580.91 L1008.53,581.18 L1009.29,581.45 L1010.04,581.71 L1010.80,581.98 L1011.55,582.26 L1012.31,582.53 L1013.06,582.81 L1013.81,583.08 L1014.56,583.36 L1015.31,583.65 L1016.06,583.93 L1016.81,584.22 L1017.56,584.51 L1018.30,584.80 L1019.05,585.09 L1019.79,585.39 L1020.54,585.68 L1021.28,585.99 L1022.02,586.29 L1022.76,586.60 L1023.50,586.91 L1024.23,587.22 L1024.97,587.54 L1025.71,587.86 L1026.44,588.18 L1027.17,588.51 L1027.90,588.84 L1028.63,589.17 L1029.36,589.51 L1030.08,589.85 L1030.81,590.19 L1031.53,590.53 L1032.25,590.88 L1032.97,591.22 L1033.69,591.58 L1034.41,591.93 L1035.13,592.29 L1035.85,592.65 L1036.56,593.01 L1037.28,593.37 L1037.99,593.74 L1038.70,594.11 L1039.42,594.48 L1040.13,594.85 L1040.83,595.23 L1041.54,595.60 L1042.25,595.98 L1042.95,596.36 L1043.66,596.74 L1044.36,597.13 L1045.06,597.51 L1045.76,597.90 L1046.46,598.29 L1047.16,598.68 L1047.86,599.08 L1048.55,599.47 L1049.25,599.87 L1049.94,600.27 L1050.63,600.68 L1051.32,601.08 L1052.01,601.49 L1052.70,601.90 L1053.39,602.31 L1054.08,602.72 L1054.76,603.14 L1055.45,603.56 L1056.13,603.98 L1056.81,604.40 L1057.50,604.82 L1058.17,605.25 L1058.85,605.67 L1059.53,606.10 L1060.20,606.53 L1060.88,606.96 L1061.55,607.40 L1062.22,607.83 L1062.89,608.27 L1063.56,608.71 L1064.23,609.16 L1064.89,609.60 L1065.56,610.05 L1066.22,610.50 L1066.88,610.95 L1067.54,611.40 L1068.20,611.86 L1068.86,612.32 L1069.52,612.78 L1070.18,613.24 L1070.83,613.70 L1071.49,614.16 L1072.14,614.62 L1072.79,615.09 L1073.44,615.56 L1074.10,616.02 L1074.75,616.49 L1075.40,616.96 L1076.05,617.43 L1076.69,617.90 L1077.34,618.37 L1077.99,618.84 L1078.63,619.32 L1079.28,619.79 L1079.92,620.27 L1080.56,620.75 L1081.20,621.23 L1081.84,621.71 L1082.48,622.19 L1083.12,622.68 L1083.76,623.16 L1084.39,623.65 L1085.03,624.14 L1085.67,624.63 L1086.30,625.12 L1086.94,625.60 L1087.57,626.09 L1088.21,626.58 L1088.84,627.07 L1089.48,627.56 L1090.11,628.05 L1090.74,628.54 L1091.38,629.03 L1092.02,629.52 L1092.65,630.00 L1093.29,630.49 L1093.92,630.98 L1094.56,631.47 L1095.19,631.96 L1095.82,632.45 L1096.46,632.94 L1097.09,633.43 L1097.72,633.92 L1098.35,634.42 L1098.99,634.91 L1099.62,635.40 L1100.25,635.89 L1100.88,636.39 L1101.52,636.88 L1102.15,637.37 L1102.78,637.86 L1103.42,638.35 L1104.05,638.84 L1104.68,639.33 L1105.32,639.82 L1105.96,640.30 L1106.59,640.79 L1107.23,641.27 L1107.87,641.76 L1108.51,642.24 L1109.15,642.72 L1109.79,643.20 L1110.43,643.68 L1111.07,644.16 L1111.72,644.64 L1112.36,645.12 L1113.00,645.60 L1113.64,646.07 L1114.29,646.55 L1114.93,647.03 L1115.58,647.50 L1116.22,647.98 L1116.87,648.45 L1117.52,648.93 L1118.16,649.40 L1118.81,649.87 L1119.46,650.34 L1120.11,650.81 L1120.76,651.27 L1121.41,651.74 L1122.07,652.20 L1122.72,652.67 L1123.38,653.13 L1124.03,653.59 L1124.69,654.05 L1125.35,654.50 L1126.00,654.96 L1126.66,655.41 L1127.32,655.87 L1127.99,656.32 L1128.65,656.77 L1129.31,657.22 L1129.97,657.67 L1130.64,658.12 L1131.30,658.56 L1131.97,659.01 L1132.64,659.45 L1133.31,659.90 L1133.97,660.34 L1134.64,660.78 L1135.31,661.22 L1135.98,661.66 L1136.65,662.10 L1137.32,662.54 L1137.99,662.97 L1138.67,663.41 L1139.34,663.85 L1140.01,664.28 L1140.68,664.72 L1141.36,665.15 L1142.03,665.58 L1142.71,666.01 L1143.39,666.44 L1144.06,666.87 L1144.74,667.29 L1145.42,667.72 L1146.10,668.14 L1146.78,668.57 L1147.46,668.99 L1148.14,669.41 L1148.82,669.84 L1149.50,670.26 L1150.18,670.68 L1150.86,671.10 L1151.55,671.52 L1152.23,671.94 L1152.91,672.36 L1153.59,672.78 L1154.27,673.20 L1154.96,673.62 L1155.64,674.04 L1156.32,674.46 L1157.00,674.88 L1157.69,675.30 L1158.37,675.72 L1159.05,676.14 L1159.74,676.56 L1160.42,676.98 L1161.10,677.39 L1161.79,677.81 L1162.47,678.23 L1163.16,678.64 L1163.84,679.06 L1164.53,679.47 L1165.21,679.89 L1165.90,680.30" fill="none" stroke="#3b3bec" stroke-width="2.4" stroke-linecap="round"/>
<path d="M775.80,549.30 L776.58,549.48 L777.36,549.67 L778.14,549.85 L778.92,550.03 L779.69,550.22 L780.47,550.40 L781.25,550.58 L782.03,550.76 L782.81,550.94 L783.59,551.12 L784.37,551.31 L785.15,551.49 L785.93,551.67 L786.71,551.85 L787.49,552.03 L788.27,552.21 L789.05,552.39 L789.83,552.57 L790.61,552.75 L791.39,552.93 L792.17,553.10 L792.95,553.28 L793.73,553.46 L794.51,553.64 L795.29,553.82 L796.07,554.00 L796.85,554.18 L797.63,554.35 L798.41,554.53 L799.19,554.71 L799.97,554.88 L800.75,555.06 L801.53,555.23 L802.31,555.40 L803.09,555.58 L803.88,555.75 L804.66,555.92 L805.44,556.09 L806.22,556.26 L807.00,556.43 L807.79,556.60 L808.57,556.77 L809.35,556.93 L810.13,557.10 L810.92,557.27 L811.70,557.44 L812.48,557.60 L813.26,557.77 L814.05,557.93 L814.83,558.10 L815.61,558.26 L816.40,558.43 L817.18,558.59 L817.96,558.75 L818.75,558.91 L819.53,559.08 L820.31,559.24 L821.10,559.40 L821.88,559.56 L822.67,559.72 L823.45,559.88 L824.23,560.04 L825.02,560.19 L825.80,560.35 L826.59,560.51 L827.37,560.67 L828.16,560.83 L828.94,560.98 L829.73,561.14 L830.51,561.30 L831.29,561.46 L832.08,561.62 L832.86,561.77 L833.65,561.93 L834.43,562.09 L835.22,562.25 L836.00,562.40 L836.79,562.56 L837.57,562.72 L838.36,562.87 L839.14,563.03 L839.92,563.19 L840.71,563.34 L841.49,563.50 L842.28,563.66 L843.06,563.81 L843.85,563.97 L844.63,564.13 L845.42,564.28 L846.20,564.44 L846.99,564.60 L847.77,564.76 L848.56,564.91 L849.34,565.07 L850.13,565.23 L850.91,565.38 L851.69,565.54 L852.48,565.70 L853.26,565.85 L854.05,566.01 L854.83,566.17 L855.62,566.33 L856.40,566.48 L857.19,566.64 L857.97,566.80 L858.76,566.95 L859.54,567.11 L860.33,567.27 L861.11,567.43 L861.89,567.58 L862.68,567.74 L863.46,567.90 L864.25,568.06 L865.03,568.21 L865.82,568.37 L866.60,568.53 L867.39,568.69 L868.17,568.84 L868.96,569.00 L869.74,569.16 L870.52,569.32 L871.31,569.48 L872.09,569.63 L872.88,569.79 L873.66,569.95 L874.45,570.11 L875.23,570.27 L876.01,570.43 L876.80,570.59 L877.58,570.75 L878.37,570.91 L879.15,571.07 L879.93,571.23 L880.72,571.40 L881.50,571.56 L882.28,571.72 L883.07,571.88 L883.85,572.04 L884.64,572.21 L885.42,572.37 L886.20,572.53 L886.99,572.70 L887.77,572.86 L888.55,573.02 L889.33,573.19 L890.12,573.36 L890.90,573.52 L891.68,573.69 L892.46,573.86 L893.25,574.03 L894.03,574.19 L894.81,574.36 L895.59,574.53 L896.38,574.70 L897.16,574.87 L897.94,575.04 L898.72,575.22 L899.50,575.39 L900.28,575.56 L901.07,575.73 L901.85,575.91 L902.63,576.08 L903.41,576.25 L904.19,576.43 L904.97,576.60 L905.75,576.78 L906.53,576.95 L907.31,577.13 L908.09,577.30 L908.87,577.48 L909.65,577.66 L910.43,577.84 L911.21,578.01 L911.99,578.19 L912.77,578.37 L913.55,578.55 L914.33,578.73 L915.11,578.91 L915.89,579.09 L916.67,579.27 L917.45,579.45 L918.23,579.64 L919.01,579.82 L919.79,580.00 L920.57,580.18 L921.35,580.37 L922.13,580.55 L922.91,580.73 L923.68,580.92 L924.46,581.10 L925.24,581.29 L926.02,581.47 L926.80,581.66 L927.58,581.84 L928.35,582.03 L929.13,582.22 L929.91,582.41 L930.69,582.60 L931.47,582.79 L932.24,582.98 L933.02,583.17 L933.80,583.36 L934.57,583.55 L935.35,583.74 L936.13,583.94 L936.90,584.13 L937.68,584.33 L938.45,584.52 L939.23,584.72 L940.01,584.91 L940.78,585.11 L941.56,585.31 L942.33,585.51 L943.11,585.71 L943.88,585.91 L944.66,586.11 L945.43,586.31 L946.20,586.52 L946.98,586.72 L947.75,586.93 L948.52,587.14 L949.30,587.34 L950.07,587.55 L950.84,587.76 L951.61,587.97 L952.38,588.18 L953.16,588.40 L953.93,588.61 L954.70,588.82 L955.47,589.04 L956.24,589.26 L957.01,589.47 L957.78,589.69 L958.55,589.91 L959.32,590.14 L960.09,590.36 L960.85,590.59 L961.62,590.81 L962.39,591.04 L963.15,591.27 L963.92,591.50 L964.69,591.73 L965.45,591.97 L966.22,592.20 L966.98,592.44 L967.75,592.68 L968.51,592.92 L969.27,593.16 L970.04,593.40 L970.80,593.65 L971.56,593.89 L972.32,594.14 L973.08,594.39 L973.84,594.64 L974.60,594.90 L975.36,595.15 L976.11,595.41 L976.87,595.67 L977.62,595.94 L978.38,596.20 L979.13,596.47 L979.88,596.74 L980.64,597.01 L981.39,597.29 L982.14,597.56 L982.89,597.84 L983.64,598.12 L984.39,598.41 L985.14,598.69 L985.89,598.98 L986.63,599.27 L987.38,599.56 L988.12,599.85 L988.87,600.14 L989.61,600.44 L990.35,600.73 L991.10,601.03 L991.84,601.33 L992.58,601.63 L993.32,601.94 L994.06,602.24 L994.79,602.55 L995.53,602.87 L996.27,603.18 L997.00,603.50 L997.74,603.81 L998.47,604.13 L999.21,604.45 L999.94,604.78 L1000.67,605.10 L1001.40,605.42 L1002.13,605.75 L1002.86,606.07 L1003.60,606.40 L1004.33,606.73 L1005.06,607.06 L1005.78,607.39 L1006.51,607.71 L1007.24,608.04 L1007.97,608.38 L1008.70,608.71 L1009.43,609.04 L1010.16,609.37 L1010.88,609.71 L1011.61,610.04 L1012.34,610.38 L1013.06,610.72 L1013.78,611.06 L1014.51,611.40 L1015.23,611.75 L1015.95,612.09 L1016.67,612.44 L1017.39,612.79 L1018.11,613.14 L1018.83,613.49 L1019.55,613.85 L1020.26,614.20 L1020.98,614.56 L1021.69,614.92 L1022.41,615.29 L1023.12,615.65 L1023.83,616.02 L1024.54,616.39 L1025.25,616.76 L1025.95,617.14 L1026.66,617.52 L1027.36,617.90 L1028.07,618.28 L1028.77,618.67 L1029.46,619.06 L1030.16,619.45 L1030.85,619.85 L1031.55,620.25 L1032.24,620.65 L1032.93,621.05 L1033.62,621.46 L1034.30,621.87 L1034.99,622.28 L1035.68,622.70 L1036.36,623.11 L1037.04,623.53 L1037.72,623.95 L1038.40,624.38 L1039.08,624.80 L1039.76,625.23 L1040.44,625.65 L1041.11,626.08 L1041.79,626.51 L1042.46,626.94 L1043.14,627.38 L1043.81,627.81 L1044.48,628.24 L1045.15,628.68 L1045.83,629.11 L1046.49,629.55 L1047.16,629.99 L1047.83,630.43 L1048.50,630.88 L1049.16,631.32 L1049.82,631.77 L1050.49,632.22 L1051.15,632.67 L1051.81,633.12 L1052.47,633.57 L1053.13,634.02 L1053.79,634.48 L1054.45,634.93 L1055.10,635.39 L1055.76,635.85 L1056.42,636.31 L1057.07,636.77 L1057.73,637.22 L1058.38,637.68 L1059.04,638.14 L1059.69,638.60 L1060.35,639.06 L1061.00,639.52 L1061.66,639.98 L1062.31,640.44 L1062.97,640.90 L1063.62,641.37 L1064.27,641.83 L1064.93,642.29 L1065.58,642.76 L1066.23,643.22 L1066.88,643.69 L1067.53,644.16 L1068.18,644.62 L1068.83,645.09 L1069.48,645.56 L1070.13,646.03 L1070.77,646.49 L1071.42,646.96 L1072.07,647.43 L1072.72,647.90 L1073.37,648.37 L1074.02,648.84 L1074.67,649.30 L1075.32,649.77 L1075.97,650.24 L1076.62,650.70 L1077.27,651.17 L1077.92,651.64 L1078.57,652.10 L1079.22,652.57 L1079.87,653.03 L1080.52,653.50 L1081.17,653.97 L1081.82,654.43 L1082.47,654.90 L1083.12,655.36 L1083.77,655.83 L1084.42,656.30 L1085.08,656.76 L1085.73,657.23 L1086.38,657.69 L1087.03,658.16 L1087.68,658.62 L1088.33,659.09 L1088.98,659.56 L1089.63,660.02 L1090.28,660.49 L1090.93,660.96 L1091.58,661.42 L1092.23,661.89 L1092.88,662.35 L1093.53,662.82 L1094.18,663.29 L1094.83,663.75 L1095.48,664.22 L1096.13,664.69 L1096.78,665.15 L1097.43,665.62 L1098.08,666.08 L1098.74,666.55 L1099.39,667.01 L1100.04,667.48 L1100.69,667.95 L1101.34,668.41 L1101.99,668.88 L1102.64,669.35 L1103.29,669.81 L1103.94,670.28 L1104.59,670.75 L1105.23,671.22 L1105.88,671.69 L1106.53,672.15 L1107.18,672.62 L1107.83,673.09 L1108.47,673.56 L1109.12,674.04 L1109.77,674.51 L1110.41,674.98 L1111.06,675.45 L1111.70,675.92 L1112.35,676.40 L1112.99,676.87 L1113.64,677.35 L1114.28,677.82 L1114.93,678.30 L1115.57,678.77 L1116.21,679.25 L1116.86,679.72 L1117.50,680.20" fill="none" stroke="#3a7a3a" stroke-width="2.4" stroke-linecap="round"/>
<path d="M775.80,574.60 L776.60,574.66 L777.40,574.72 L778.20,574.78 L778.99,574.84 L779.79,574.91 L780.59,574.98 L781.39,575.05 L782.19,575.12 L782.98,575.20 L783.78,575.28 L784.58,575.36 L785.37,575.44 L786.17,575.52 L786.96,575.60 L787.76,575.69 L788.55,575.78 L789.35,575.87 L790.14,575.96 L790.94,576.05 L791.73,576.15 L792.53,576.26 L793.32,576.36 L794.11,576.47 L794.91,576.58 L795.70,576.69 L796.49,576.80 L797.29,576.92 L798.08,577.03 L798.87,577.15 L799.66,577.27 L800.45,577.40 L801.24,577.52 L802.04,577.64 L802.83,577.77 L803.62,577.89 L804.41,578.02 L805.20,578.15 L805.98,578.29 L806.77,578.43 L807.56,578.57 L808.35,578.71 L809.14,578.85 L809.92,579.00 L810.71,579.14 L811.50,579.29 L812.28,579.44 L813.07,579.59 L813.86,579.74 L814.64,579.90 L815.43,580.05 L816.22,580.20 L817.00,580.35 L817.79,580.51 L818.57,580.66 L819.36,580.81 L820.14,580.97 L820.93,581.13 L821.71,581.28 L822.50,581.44 L823.28,581.60 L824.07,581.77 L824.85,581.93 L825.63,582.09 L826.42,582.25 L827.20,582.42 L827.99,582.58 L828.77,582.74 L829.55,582.91 L830.34,583.07 L831.12,583.24 L831.90,583.40 L832.69,583.57 L833.47,583.74 L834.25,583.90 L835.03,584.07 L835.82,584.24 L836.60,584.41 L837.38,584.58 L838.16,584.75 L838.95,584.92 L839.73,585.09 L840.51,585.26 L841.29,585.43 L842.08,585.60 L842.86,585.77 L843.64,585.94 L844.42,586.11 L845.20,586.28 L845.99,586.45 L846.77,586.62 L847.55,586.79 L848.33,586.96 L849.11,587.13 L849.90,587.31 L850.68,587.48 L851.46,587.65 L852.24,587.82 L853.02,587.99 L853.81,588.16 L854.59,588.34 L855.37,588.51 L856.15,588.68 L856.93,588.85 L857.72,589.02 L858.50,589.19 L859.28,589.36 L860.06,589.53 L860.85,589.70 L861.63,589.87 L862.41,590.03 L863.19,590.20 L863.98,590.37 L864.76,590.53 L865.54,590.70 L866.33,590.86 L867.11,591.03 L867.89,591.19 L868.68,591.36 L869.46,591.52 L870.24,591.69 L871.03,591.85 L871.81,592.02 L872.59,592.18 L873.38,592.35 L874.16,592.51 L874.94,592.68 L875.73,592.84 L876.51,593.01 L877.29,593.18 L878.08,593.34 L878.86,593.50 L879.64,593.67 L880.43,593.83 L881.21,594.00 L882.00,594.16 L882.78,594.33 L883.56,594.49 L884.35,594.66 L885.13,594.82 L885.91,594.99 L886.69,595.16 L887.48,595.33 L888.26,595.50 L889.04,595.67 L889.82,595.85 L890.60,596.02 L891.38,596.20 L892.16,596.38 L892.94,596.55 L893.72,596.73 L894.50,596.91 L895.28,597.09 L896.06,597.28 L896.84,597.46 L897.62,597.64 L898.40,597.83 L899.18,598.02 L899.96,598.21 L900.74,598.39 L901.51,598.59 L902.29,598.78 L903.07,598.97 L903.84,599.17 L904.62,599.37 L905.39,599.56 L906.17,599.77 L906.94,599.97 L907.72,600.17 L908.49,600.38 L909.26,600.59 L910.03,600.80 L910.81,601.01 L911.58,601.22 L912.35,601.44 L913.12,601.65 L913.89,601.87 L914.66,602.09 L915.43,602.30 L916.20,602.52 L916.97,602.74 L917.74,602.96 L918.51,603.19 L919.28,603.41 L920.05,603.63 L920.82,603.86 L921.58,604.09 L922.35,604.32 L923.12,604.55 L923.88,604.78 L924.65,605.01 L925.42,605.24 L926.18,605.47 L926.95,605.71 L927.71,605.94 L928.48,606.18 L929.25,606.41 L930.01,606.65 L930.78,606.88 L931.54,607.12 L932.30,607.36 L933.07,607.60 L933.83,607.84 L934.60,608.08 L935.36,608.32 L936.12,608.56 L936.88,608.81 L937.65,609.05 L938.41,609.30 L939.17,609.54 L939.93,609.79 L940.69,610.04 L941.45,610.28 L942.22,610.53 L942.98,610.78 L943.74,611.03 L944.50,611.28 L945.26,611.54 L946.02,611.79 L946.77,612.05 L947.53,612.30 L948.29,612.56 L949.05,612.81 L949.81,613.07 L950.56,613.33 L951.32,613.59 L952.08,613.86 L952.83,614.12 L953.59,614.39 L954.34,614.65 L955.10,614.92 L955.85,615.19 L956.61,615.45 L957.36,615.72 L958.11,616.00 L958.87,616.27 L959.62,616.54 L960.37,616.82 L961.12,617.09 L961.87,617.37 L962.62,617.65 L963.37,617.93 L964.12,618.22 L964.87,618.50 L965.62,618.79 L966.36,619.08 L967.11,619.37 L967.85,619.66 L968.60,619.95 L969.34,620.25 L970.09,620.55 L970.83,620.85 L971.57,621.15 L972.31,621.45 L973.06,621.75 L973.80,622.06 L974.53,622.36 L975.27,622.67 L976.01,622.98 L976.75,623.30 L977.48,623.61 L978.22,623.93 L978.95,624.25 L979.68,624.57 L980.42,624.90 L981.15,625.22 L981.88,625.55 L982.61,625.88 L983.34,626.21 L984.06,626.54 L984.79,626.88 L985.52,627.21 L986.24,627.55 L986.97,627.89 L987.69,628.23 L988.42,628.57 L989.14,628.92 L989.86,629.26 L990.58,629.61 L991.30,629.96 L992.02,630.31 L992.74,630.66 L993.46,631.02 L994.18,631.37 L994.89,631.73 L995.61,632.09 L996.32,632.45 L997.04,632.81 L997.75,633.18 L998.47,633.54 L999.18,633.90 L999.89,634.26 L1000.61,634.63 L1001.32,634.99 L1002.03,635.36 L1002.74,635.72 L1003.45,636.09 L1004.16,636.46 L1004.87,636.83 L1005.58,637.20 L1006.29,637.57 L1007.00,637.94 L1007.71,638.32 L1008.42,638.69 L1009.13,639.06 L1009.83,639.44 L1010.54,639.81 L1011.25,640.19 L1011.96,640.56 L1012.66,640.94 L1013.37,641.31 L1014.08,641.69 L1014.78,642.06 L1015.49,642.44 L1016.20,642.82 L1016.91,643.19 L1017.61,643.57 L1018.32,643.94 L1019.03,644.32 L1019.73,644.69 L1020.44,645.07 L1021.15,645.45 L1021.85,645.83 L1022.56,646.21 L1023.26,646.59 L1023.97,646.97 L1024.67,647.35 L1025.37,647.73 L1026.07,648.12 L1026.78,648.51 L1027.48,648.89 L1028.18,649.28 L1028.87,649.67 L1029.57,650.06 L1030.27,650.46 L1030.96,650.85 L1031.66,651.25 L1032.36,651.64 L1033.05,652.04 L1033.75,652.44 L1034.44,652.84 L1035.14,653.24 L1035.83,653.64 L1036.52,654.04 L1037.22,654.44 L1037.91,654.85 L1038.60,655.26 L1039.29,655.66 L1039.97,656.08 L1040.66,656.49 L1041.35,656.90 L1042.03,657.32 L1042.71,657.74 L1043.39,658.16 L1044.07,658.58 L1044.74,659.01 L1045.42,659.44 L1046.09,659.87 L1046.76,660.31 L1047.43,660.75 L1048.10,661.19 L1048.76,661.63 L1049.43,662.07 L1050.09,662.52 L1050.76,662.97 L1051.42,663.42 L1052.08,663.88 L1052.74,664.33 L1053.39,664.79 L1054.05,665.25 L1054.71,665.72 L1055.36,666.18 L1056.01,666.65 L1056.66,667.12 L1057.31,667.59 L1057.96,668.06 L1058.60,668.53 L1059.25,669.01 L1059.89,669.48 L1060.53,669.96 L1061.17,670.44 L1061.81,670.92 L1062.44,671.41 L1063.08,671.90 L1063.71,672.38 L1064.34,672.88 L1064.97,673.37 L1065.60,673.87 L1066.22,674.37 L1066.85,674.87 L1067.47,675.37 L1068.09,675.88 L1068.71,676.39 L1069.33,676.90 L1069.94,677.41 L1070.56,677.92 L1071.17,678.44 L1071.78,678.96 L1072.39,679.48 L1073.00,680.00" fill="none" stroke="#3ee03e" stroke-width="2.4" stroke-linecap="round"/>
<path d="M775.80,602.20 L776.59,602.33 L777.38,602.46 L778.18,602.59 L778.97,602.72 L779.76,602.85 L780.55,602.98 L781.34,603.11 L782.13,603.25 L782.92,603.38 L783.72,603.51 L784.51,603.65 L785.30,603.78 L786.09,603.91 L786.88,604.05 L787.67,604.18 L788.46,604.32 L789.25,604.46 L790.04,604.59 L790.83,604.73 L791.62,604.87 L792.41,605.00 L793.20,605.14 L794.00,605.28 L794.79,605.42 L795.58,605.56 L796.37,605.70 L797.16,605.84 L797.95,605.98 L798.74,606.12 L799.53,606.26 L800.32,606.40 L801.11,606.55 L801.89,606.69 L802.68,606.83 L803.47,606.97 L804.26,607.11 L805.05,607.26 L805.84,607.40 L806.63,607.54 L807.42,607.69 L808.21,607.83 L809.00,607.98 L809.79,608.12 L810.58,608.27 L811.37,608.41 L812.16,608.56 L812.95,608.71 L813.73,608.85 L814.52,609.00 L815.31,609.15 L816.10,609.29 L816.89,609.44 L817.68,609.59 L818.47,609.74 L819.25,609.89 L820.04,610.03 L820.83,610.18 L821.62,610.33 L822.41,610.48 L823.20,610.63 L823.99,610.78 L824.77,610.93 L825.56,611.08 L826.35,611.23 L827.14,611.38 L827.93,611.53 L828.71,611.69 L829.50,611.84 L830.29,611.99 L831.08,612.15 L831.86,612.30 L832.65,612.46 L833.44,612.62 L834.22,612.77 L835.01,612.93 L835.80,613.09 L836.59,613.24 L837.37,613.40 L838.16,613.56 L838.94,613.72 L839.73,613.88 L840.52,614.04 L841.30,614.20 L842.09,614.37 L842.87,614.53 L843.66,614.70 L844.44,614.87 L845.23,615.04 L846.01,615.21 L846.79,615.38 L847.58,615.55 L848.36,615.73 L849.14,615.91 L849.93,616.08 L850.71,616.26 L851.49,616.45 L852.27,616.63 L853.05,616.81 L853.83,617.00 L854.61,617.18 L855.39,617.37 L856.17,617.56 L856.95,617.75 L857.73,617.95 L858.51,618.14 L859.29,618.33 L860.07,618.53 L860.84,618.73 L861.62,618.92 L862.40,619.12 L863.17,619.32 L863.95,619.53 L864.73,619.73 L865.50,619.94 L866.28,620.15 L867.05,620.35 L867.83,620.56 L868.60,620.77 L869.38,620.99 L870.15,621.20 L870.92,621.41 L871.70,621.63 L872.47,621.85 L873.24,622.06 L874.01,622.28 L874.79,622.50 L875.56,622.72 L876.33,622.94 L877.10,623.16 L877.87,623.38 L878.64,623.60 L879.42,623.82 L880.19,624.04 L880.96,624.26 L881.73,624.49 L882.50,624.71 L883.27,624.94 L884.04,625.16 L884.81,625.39 L885.58,625.62 L886.35,625.85 L887.11,626.08 L887.88,626.31 L888.65,626.54 L889.42,626.78 L890.19,627.01 L890.95,627.25 L891.72,627.48 L892.49,627.72 L893.25,627.96 L894.02,628.20 L894.78,628.44 L895.55,628.68 L896.31,628.92 L897.08,629.16 L897.84,629.41 L898.61,629.65 L899.37,629.90 L900.13,630.14 L900.90,630.39 L901.66,630.64 L902.42,630.89 L903.19,631.14 L903.95,631.39 L904.71,631.65 L905.47,631.90 L906.23,632.16 L906.99,632.42 L907.75,632.67 L908.51,632.93 L909.27,633.19 L910.03,633.46 L910.78,633.72 L911.54,633.98 L912.30,634.25 L913.06,634.51 L913.81,634.78 L914.57,635.05 L915.33,635.32 L916.08,635.58 L916.84,635.85 L917.59,636.12 L918.35,636.40 L919.10,636.67 L919.86,636.94 L920.61,637.22 L921.36,637.49 L922.12,637.77 L922.87,638.05 L923.62,638.33 L924.37,638.61 L925.13,638.89 L925.88,639.17 L926.63,639.45 L927.38,639.73 L928.13,640.02 L928.88,640.30 L929.63,640.58 L930.38,640.87 L931.13,641.15 L931.88,641.44 L932.63,641.73 L933.38,642.02 L934.13,642.31 L934.88,642.60 L935.62,642.89 L936.37,643.18 L937.12,643.47 L937.86,643.77 L938.61,644.06 L939.36,644.36 L940.10,644.66 L940.84,644.96 L941.59,645.26 L942.33,645.56 L943.08,645.86 L943.82,646.16 L944.56,646.47 L945.30,646.77 L946.05,647.08 L946.79,647.38 L947.53,647.69 L948.27,648.00 L949.01,648.31 L949.75,648.63 L950.49,648.94 L951.22,649.26 L951.96,649.57 L952.70,649.89 L953.43,650.21 L954.17,650.53 L954.90,650.86 L955.63,651.18 L956.37,651.51 L957.10,651.84 L957.83,652.17 L958.56,652.50 L959.29,652.83 L960.02,653.16 L960.75,653.50 L961.48,653.84 L962.21,654.18 L962.93,654.52 L963.66,654.86 L964.39,655.20 L965.11,655.54 L965.83,655.89 L966.56,656.24 L967.28,656.59 L968.00,656.94 L968.72,657.29 L969.44,657.65 L970.16,658.00 L970.88,658.36 L971.60,658.72 L972.31,659.08 L973.03,659.44 L973.75,659.80 L974.46,660.17 L975.18,660.53 L975.89,660.90 L976.60,661.26 L977.32,661.63 L978.03,662.00 L978.74,662.37 L979.45,662.74 L980.16,663.11 L980.87,663.49 L981.58,663.86 L982.29,664.24 L983.00,664.62 L983.71,665.00 L984.41,665.38 L985.12,665.76 L985.83,666.14 L986.53,666.52 L987.24,666.90 L987.94,667.29 L988.65,667.67 L989.35,668.05 L990.05,668.44 L990.76,668.83 L991.46,669.21 L992.16,669.60 L992.86,669.99 L993.56,670.38 L994.27,670.77 L994.97,671.16 L995.67,671.55 L996.37,671.95 L997.07,672.34 L997.76,672.73 L998.46,673.13 L999.16,673.52 L999.86,673.92 L1000.56,674.31 L1001.26,674.71 L1001.96,675.10 L1002.65,675.50 L1003.35,675.90 L1004.05,676.29 L1004.74,676.69 L1005.44,677.09 L1006.14,677.49 L1006.83,677.89 L1007.53,678.29 L1008.22,678.69 L1008.92,679.09 L1009.61,679.49 L1010.31,679.90 L1011.00,680.30" fill="none" stroke="#ee3b3b" stroke-width="2.4" stroke-linecap="round"/>
<line x1="773.9" y1="482.3" x2="773.9" y2="657" stroke="#a42cb0" stroke-width="3.2"/>
<path d="M775.20,654.00 L775.25,654.83 L775.35,655.64 L775.50,656.44 L775.68,657.22 L775.89,657.99 L776.12,658.74 L776.37,659.49 L776.72,660.24 L777.13,660.95 L777.59,661.59 L778.13,662.15 L778.77,662.67 L779.46,663.12 L780.16,663.47 L780.91,663.77 L781.68,664.03 L782.45,664.27 L783.23,664.50 L784.00,664.71 L784.77,664.92 L785.55,665.12 L786.33,665.31 L787.11,665.49 L787.90,665.68 L788.68,665.86 L789.46,666.04 L790.25,666.22 L791.03,666.41 L791.81,666.60 L792.59,666.80 L793.37,666.99 L794.15,667.19 L794.93,667.38 L795.71,667.58 L796.49,667.77 L797.27,667.97 L798.05,668.16 L798.82,668.36 L799.60,668.55 L800.38,668.75 L801.16,668.94 L801.94,669.13 L802.72,669.32 L803.50,669.52 L804.28,669.71 L805.06,669.90 L805.84,670.09 L806.62,670.28 L807.40,670.48 L808.18,670.67 L808.96,670.87 L809.74,671.06 L810.52,671.25 L811.30,671.45 L812.08,671.65 L812.86,671.84 L813.64,672.04 L814.42,672.23 L815.20,672.43 L815.98,672.62 L816.76,672.81 L817.54,673.01 L818.32,673.20 L819.10,673.39 L819.88,673.58 L820.66,673.77 L821.44,673.96 L822.22,674.16 L823.00,674.35 L823.78,674.54 L824.56,674.74 L825.34,674.94 L826.12,675.14 L826.89,675.34 L827.67,675.54 L828.45,675.75 L829.22,675.95 L830.00,676.16 L830.78,676.37 L831.55,676.57 L832.33,676.77 L833.11,676.97 L833.89,677.17 L834.67,677.37 L835.44,677.58 L836.22,677.78 L837.00,677.98 L837.78,678.18 L838.56,678.38 L839.34,678.57 L840.12,678.76 L840.90,678.94 L841.69,679.11 L842.47,679.28 L843.26,679.43 L844.05,679.59 L844.84,679.74 L845.63,679.88 L846.42,680.02 L847.21,680.15 L848.00,680.28 L848.80,680.40" fill="none" stroke="#e24cee" stroke-width="2.4" stroke-linecap="round"/>
<line x1="1090.2" y1="479.9" x2="1132.4" y2="479.9" stroke="#333333" stroke-width="2.5"/>
<text x="1157.7" y="483.2" font-size="20" fill="#1e1e1e" stroke="#1e1e1e" stroke-width="0.55" textLength="48.3" lengthAdjust="spacingAndGlyphs">30mA</text>
<circle cx="1217.0" cy="476.7" r="2.0" fill="#1e1e1e"/>
<text x="1227.0" y="483.2" font-size="20" fill="#1e1e1e" stroke="#1e1e1e" stroke-width="0.55">g</text>
<text x="1237.6" y="473.2" font-size="12" fill="#1e1e1e" stroke="#1e1e1e" stroke-width="0.4">-1</text>
<line x1="1090.2" y1="496.8" x2="1132.4" y2="496.8" stroke="#3b3bec" stroke-width="2.5"/>
<text x="1149.3" y="503.9" font-size="20" fill="#2a2ad6" stroke="#2a2ad6" stroke-width="0.55" textLength="56.7" lengthAdjust="spacingAndGlyphs">120mA</text>
<circle cx="1216.2" cy="497.4" r="2.0" fill="#2a2ad6"/>
<text x="1226.8" y="503.9" font-size="20" fill="#2a2ad6" stroke="#2a2ad6" stroke-width="0.55">g</text>
<text x="1237.4" y="493.9" font-size="12" fill="#2a2ad6" stroke="#2a2ad6" stroke-width="0.4">-1</text>
<line x1="1090.2" y1="517.5" x2="1132.4" y2="517.5" stroke="#3a7a3a" stroke-width="2.5"/>
<text x="1147.6" y="524.2" font-size="20" fill="#2a807a" stroke="#2a807a" stroke-width="0.55" textLength="58.4" lengthAdjust="spacingAndGlyphs">300mA</text>
<circle cx="1216.2" cy="517.7" r="2.0" fill="#2a807a"/>
<text x="1226.8" y="524.2" font-size="20" fill="#2a807a" stroke="#2a807a" stroke-width="0.55">g</text>
<text x="1237.4" y="514.2" font-size="12" fill="#2a807a" stroke="#2a807a" stroke-width="0.4">-1</text>
<line x1="1090.2" y1="538.1" x2="1132.4" y2="538.1" stroke="#3ee03e" stroke-width="2.5"/>
<text x="1147.6" y="544.5" font-size="20" fill="#3ddc3d" stroke="#3ddc3d" stroke-width="0.55" textLength="58.1" lengthAdjust="spacingAndGlyphs">600mA</text>
<circle cx="1216.0" cy="538.0" r="2.0" fill="#3ddc3d"/>
<text x="1226.7" y="544.5" font-size="20" fill="#3ddc3d" stroke="#3ddc3d" stroke-width="0.55">g</text>
<text x="1237.4" y="534.5" font-size="12" fill="#3ddc3d" stroke="#3ddc3d" stroke-width="0.4">-1</text>
<line x1="1090.2" y1="555.3" x2="1132.4" y2="555.3" stroke="#ee3b3b" stroke-width="2.5"/>
<text x="1141.7" y="562.6" font-size="20" fill="#dc3838" stroke="#dc3838" stroke-width="0.55" textLength="67.4" lengthAdjust="spacingAndGlyphs">1200mA</text>
<circle cx="1219.4" cy="556.1" r="2.0" fill="#dc3838"/>
<text x="1229.6" y="562.6" font-size="20" fill="#dc3838" stroke="#dc3838" stroke-width="0.55">g</text>
<text x="1239.9" y="552.6" font-size="12" fill="#dc3838" stroke="#dc3838" stroke-width="0.4">-1</text>
<line x1="1090.2" y1="579.0" x2="1132.4" y2="579.0" stroke="#e055ee" stroke-width="2.5"/>
<text x="1140.7" y="582.6" font-size="20" fill="#e040e6" stroke="#e040e6" stroke-width="0.55" textLength="67.9" lengthAdjust="spacingAndGlyphs">3000mA</text>
<circle cx="1219.4" cy="576.1" r="2.0" fill="#e040e6"/>
<text x="1230.2" y="582.6" font-size="20" fill="#e040e6" stroke="#e040e6" stroke-width="0.55">g</text>
<text x="1240.2" y="572.6" font-size="12" fill="#e040e6" stroke="#e040e6" stroke-width="0.4">-1</text>
<text transform="translate(718.3,684.2) rotate(-90)" font-size="29.5" fill="#151515" textLength="182" lengthAdjust="spacingAndGlyphs" stroke="#151515" stroke-width="0.55">Cell voltage / V</text>
<text x="857" y="800.6" font-size="30" fill="#151515" textLength="281.8" lengthAdjust="spacingAndGlyphs" stroke="#151515" stroke-width="0.55">Specific capacity / mAh</text>
<circle cx="1160" cy="790.8" r="2.6" fill="#151515"/>
<text x="1176.5" y="800.6" font-size="30" fill="#151515" stroke="#151515" stroke-width="0.55">g</text>
<text x="1191.5" y="785.5" font-size="18" fill="#151515" stroke="#151515" stroke-width="0.35">-1</text>
<text x="668.5" y="803" font-size="29" fill="#151515" stroke="#151515" stroke-width="0.55">(c)</text>
</g>
</svg>
</body></html>
